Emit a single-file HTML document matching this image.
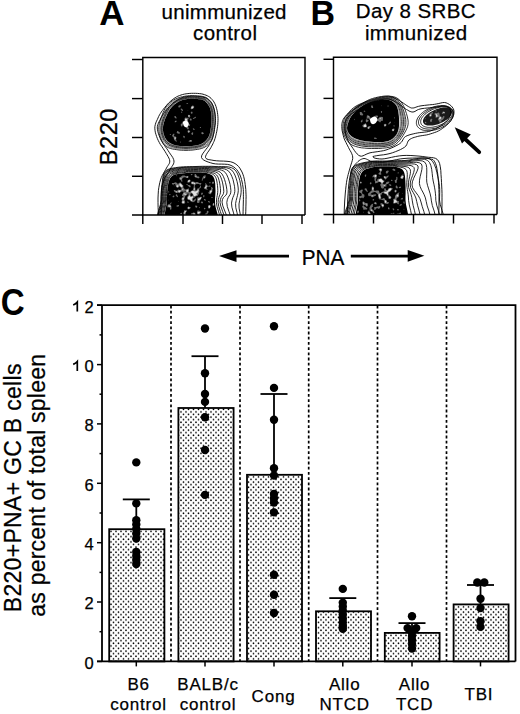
<!DOCTYPE html><html><head><meta charset="utf-8"><style>html,body{margin:0;padding:0;background:#fff;overflow:hidden;width:520px;height:714px;}svg{display:block;}text{font-family:"Liberation Sans",sans-serif;fill:#000;stroke:#000;stroke-width:0.25px;}text[font-weight=bold]{stroke:none;}</style></head><body>
<svg width="520" height="714" viewBox="0 0 520 714">
<rect width="520" height="714" fill="#fff"/>
<defs><pattern id="st" width="5" height="5.2" patternUnits="userSpaceOnUse" x="0" y="0"><circle cx="1" cy="1" r="0.85" fill="#000"/><circle cx="3.5" cy="3.6" r="0.85" fill="#000"/></pattern><clipPath id="cpA"><rect x="143" y="57.5" width="162" height="157.5"/></clipPath><clipPath id="cpB"><rect x="333.5" y="57.3" width="163.5" height="157.2"/></clipPath></defs><line x1="171" y1="305.59999999999997" x2="171" y2="661.4" stroke="#000" stroke-width="1.7" stroke-dasharray="2.8 2.4"/><line x1="240" y1="305.59999999999997" x2="240" y2="661.4" stroke="#000" stroke-width="1.7" stroke-dasharray="2.8 2.4"/><line x1="308.7" y1="305.59999999999997" x2="308.7" y2="661.4" stroke="#000" stroke-width="1.7" stroke-dasharray="2.8 2.4"/><line x1="377.5" y1="305.59999999999997" x2="377.5" y2="661.4" stroke="#000" stroke-width="1.7" stroke-dasharray="2.8 2.4"/><line x1="446.5" y1="305.59999999999997" x2="446.5" y2="661.4" stroke="#000" stroke-width="1.7" stroke-dasharray="2.8 2.4"/><rect x="109.2" y="529.2" width="55.2" height="132.19999999999993" fill="url(#st)" stroke="#000" stroke-width="1.8"/><rect x="178.4" y="408" width="55.19999999999999" height="253.39999999999998" fill="url(#st)" stroke="#000" stroke-width="1.8"/><rect x="247" y="474.8" width="55" height="186.59999999999997" fill="url(#st)" stroke="#000" stroke-width="1.8"/><rect x="316" y="611.3" width="55" height="50.10000000000002" fill="url(#st)" stroke="#000" stroke-width="1.8"/><rect x="384.8" y="632.9" width="54.80000000000001" height="28.5" fill="url(#st)" stroke="#000" stroke-width="1.8"/><rect x="453.6" y="604.4" width="55.0" height="57.0" fill="url(#st)" stroke="#000" stroke-width="1.8"/><line x1="136.3" y1="529.2" x2="136.3" y2="499.4" stroke="#000" stroke-width="1.8"/><line x1="122.80000000000001" y1="499.4" x2="149.8" y2="499.4" stroke="#000" stroke-width="1.8"/><line x1="205" y1="408" x2="205" y2="356.2" stroke="#000" stroke-width="1.8"/><line x1="191.5" y1="356.2" x2="218.5" y2="356.2" stroke="#000" stroke-width="1.8"/><line x1="274" y1="474.8" x2="274" y2="394" stroke="#000" stroke-width="1.8"/><line x1="260.5" y1="394" x2="287.5" y2="394" stroke="#000" stroke-width="1.8"/><line x1="342.8" y1="611.3" x2="342.8" y2="598.1" stroke="#000" stroke-width="1.8"/><line x1="329.3" y1="598.1" x2="356.3" y2="598.1" stroke="#000" stroke-width="1.8"/><line x1="412" y1="632.9" x2="412" y2="623.1" stroke="#000" stroke-width="1.8"/><line x1="398.5" y1="623.1" x2="425.5" y2="623.1" stroke="#000" stroke-width="1.8"/><line x1="480.5" y1="604.4" x2="480.5" y2="585" stroke="#000" stroke-width="1.8"/><line x1="467.0" y1="585" x2="494.0" y2="585" stroke="#000" stroke-width="1.8"/><circle cx="136.3" cy="462.4" r="4.2"/><circle cx="136.3" cy="503.4" r="4.2"/><circle cx="136.3" cy="520.2" r="4.2"/><circle cx="136.3" cy="524.5" r="4.2"/><circle cx="136.3" cy="529" r="4.2"/><circle cx="136.3" cy="533.5" r="4.2"/><circle cx="136.3" cy="538.5" r="4.2"/><circle cx="136.3" cy="552" r="4.2"/><circle cx="136.3" cy="556" r="4.2"/><circle cx="136.3" cy="560" r="4.2"/><circle cx="136.3" cy="564" r="4.2"/><circle cx="205" cy="328.5" r="4.2"/><circle cx="205" cy="373.3" r="4.2"/><circle cx="205" cy="394" r="4.2"/><circle cx="205" cy="401.9" r="4.2"/><circle cx="205" cy="417.3" r="4.2"/><circle cx="205" cy="450" r="4.2"/><circle cx="205" cy="494.9" r="4.2"/><circle cx="274" cy="326.2" r="4.2"/><circle cx="274" cy="387.9" r="4.2"/><circle cx="274" cy="419.8" r="4.2"/><circle cx="274" cy="468.2" r="4.2"/><circle cx="274" cy="475.5" r="4.2"/><circle cx="274" cy="494" r="4.2"/><circle cx="274" cy="498.2" r="4.2"/><circle cx="274" cy="502.6" r="4.2"/><circle cx="274" cy="512.4" r="4.2"/><circle cx="274" cy="574.7" r="4.2"/><circle cx="274" cy="594.7" r="4.2"/><circle cx="274" cy="613" r="4.2"/><circle cx="342.8" cy="588.9" r="4.2"/><circle cx="342.8" cy="602.6" r="4.2"/><circle cx="342.8" cy="606.5" r="4.2"/><circle cx="342.8" cy="610.5" r="4.2"/><circle cx="342.8" cy="614.5" r="4.2"/><circle cx="342.8" cy="618.5" r="4.2"/><circle cx="342.8" cy="622.5" r="4.2"/><circle cx="342.8" cy="626" r="4.2"/><circle cx="342.8" cy="628.8" r="4.2"/><circle cx="412" cy="616.3" r="4.2"/><circle cx="412" cy="632" r="4.2"/><circle cx="412" cy="636" r="4.2"/><circle cx="412" cy="640" r="4.2"/><circle cx="412" cy="644" r="4.2"/><circle cx="412" cy="648.5" r="4.2"/><circle cx="480.5" cy="598.75" r="4.2"/><circle cx="480.5" cy="608.1" r="4.2"/><circle cx="480.5" cy="621.25" r="4.2"/><circle cx="480.5" cy="626.9" r="4.2"/><circle cx="407.6" cy="628.1" r="4.2"/><circle cx="416.2" cy="628.1" r="4.2"/><circle cx="477.3" cy="582.5" r="4.2"/><circle cx="484.3" cy="582.5" r="4.2"/><path d="M102 305.2 V661.4 M97 305.2 H515.5 V661.4 M97 661.4 H515.5" fill="none" stroke="#000" stroke-width="1.8"/><line x1="97" y1="661.4" x2="102" y2="661.4" stroke="#000" stroke-width="1.5"/><text x="95" y="668.7" text-anchor="end" font-size="16.5" letter-spacing="1.2">0</text><line x1="99.5" y1="631.7" x2="102" y2="631.7" stroke="#000" stroke-width="1.5"/><line x1="97" y1="602.0" x2="102" y2="602.0" stroke="#000" stroke-width="1.5"/><text x="95" y="609.3" text-anchor="end" font-size="16.5" letter-spacing="1.2">2</text><line x1="99.5" y1="572.4" x2="102" y2="572.4" stroke="#000" stroke-width="1.5"/><line x1="97" y1="542.7" x2="102" y2="542.7" stroke="#000" stroke-width="1.5"/><text x="95" y="550.0" text-anchor="end" font-size="16.5" letter-spacing="1.2">4</text><line x1="99.5" y1="513.0" x2="102" y2="513.0" stroke="#000" stroke-width="1.5"/><line x1="97" y1="483.3" x2="102" y2="483.3" stroke="#000" stroke-width="1.5"/><text x="95" y="490.6" text-anchor="end" font-size="16.5" letter-spacing="1.2">6</text><line x1="99.5" y1="453.6" x2="102" y2="453.6" stroke="#000" stroke-width="1.5"/><line x1="97" y1="423.9" x2="102" y2="423.9" stroke="#000" stroke-width="1.5"/><text x="95" y="431.2" text-anchor="end" font-size="16.5" letter-spacing="1.2">8</text><line x1="99.5" y1="394.2" x2="102" y2="394.2" stroke="#000" stroke-width="1.5"/><line x1="97" y1="364.6" x2="102" y2="364.6" stroke="#000" stroke-width="1.5"/><text x="95" y="371.9" text-anchor="end" font-size="16.5" letter-spacing="1.2">0</text><path d="M73.2 364.4 Q75.8 363.3 77.3 361.5 V371.0" fill="none" stroke="#000" stroke-width="1.7"/><line x1="99.5" y1="334.9" x2="102" y2="334.9" stroke="#000" stroke-width="1.5"/><line x1="97" y1="305.2" x2="102" y2="305.2" stroke="#000" stroke-width="1.5"/><text x="95" y="312.5" text-anchor="end" font-size="16.5" letter-spacing="1.2">2</text><path d="M73.2 305.0 Q75.8 303.9 77.3 302.1 V311.6" fill="none" stroke="#000" stroke-width="1.7"/><line x1="136.3" y1="661.4" x2="136.3" y2="666.4" stroke="#000" stroke-width="1.5"/><line x1="205" y1="661.4" x2="205" y2="666.4" stroke="#000" stroke-width="1.5"/><line x1="274" y1="661.4" x2="274" y2="666.4" stroke="#000" stroke-width="1.5"/><line x1="342.8" y1="661.4" x2="342.8" y2="666.4" stroke="#000" stroke-width="1.5"/><line x1="412" y1="661.4" x2="412" y2="666.4" stroke="#000" stroke-width="1.5"/><line x1="480.5" y1="661.4" x2="480.5" y2="666.4" stroke="#000" stroke-width="1.5"/><text x="138.6" y="689.7" text-anchor="middle" font-size="17" letter-spacing="0.8">B6</text><text x="138.6" y="710.4" text-anchor="middle" font-size="17" letter-spacing="0.8">control</text><text x="208.0" y="689.7" text-anchor="middle" font-size="17" letter-spacing="0.8">BALB/c</text><text x="208.0" y="710.4" text-anchor="middle" font-size="17" letter-spacing="0.8">control</text><text x="273.5" y="701.8" text-anchor="middle" font-size="17" letter-spacing="0.8">Cong</text><text x="344.7" y="689.7" text-anchor="middle" font-size="17" letter-spacing="0.8">Allo</text><text x="344.7" y="710.4" text-anchor="middle" font-size="17" letter-spacing="0.8">NTCD</text><text x="414.59999999999997" y="689.7" text-anchor="middle" font-size="17" letter-spacing="0.8">Allo</text><text x="414.59999999999997" y="710.4" text-anchor="middle" font-size="17" letter-spacing="0.8">TCD</text><text x="478.9" y="700.3" text-anchor="middle" font-size="17" letter-spacing="0.8">TBI</text><text transform="translate(20.6,612.2) rotate(-90)" font-size="23" letter-spacing="0.3">B220+PNA+ GC B cells</text><text transform="translate(45.2,616.7) rotate(-90)" font-size="23" letter-spacing="0.23">as percent of total spleen</text><text x="0.8" y="315.3" font-size="36.8" font-weight="bold" transform="translate(0.8 0) scale(0.9 1) translate(-0.8 0)">C</text>
<g clip-path="url(#cpA)"><path d="M163.0 127.0 163.2 125.4 163.6 123.7 164.1 122.0 164.7 120.3 165.3 118.6 166.0 117.0 166.7 115.4 167.4 113.8 168.2 112.2 169.1 110.7 170.0 109.3 171.0 108.0 172.0 106.8 173.1 105.7 174.3 104.6 175.5 103.7 176.8 102.8 178.0 102.0 179.3 101.3 180.5 100.7 181.8 100.2 183.1 99.8 184.5 99.5 186.0 99.2 187.6 99.0 189.3 98.9 191.0 98.8 192.7 98.8 194.4 98.9 196.0 99.0 197.5 99.1 198.9 99.2 200.3 99.3 201.6 99.6 202.8 99.9 204.0 100.5 205.1 101.3 206.1 102.2 207.1 103.3 208.0 104.5 208.8 105.7 209.5 107.0 210.1 108.3 210.5 109.7 210.9 111.2 211.1 112.8 211.4 114.4 211.5 116.0 211.6 117.7 211.6 119.6 211.5 121.4 211.4 123.3 211.2 125.2 211.0 127.0 210.7 128.8 210.5 130.5 210.1 132.3 209.7 134.0 209.2 135.5 208.5 137.0 207.7 138.3 206.8 139.6 205.7 140.7 204.6 141.8 203.3 142.7 202.0 143.5 200.6 144.2 199.0 144.7 197.3 145.2 195.6 145.5 193.8 145.8 192.0 146.0 190.1 146.2 188.1 146.3 186.0 146.3 183.9 146.3 181.9 146.2 180.0 146.0 178.2 145.7 176.4 145.4 174.6 144.9 172.9 144.4 171.4 143.7 170.0 143.0 168.8 142.2 167.7 141.2 166.7 140.2 165.9 139.0 165.1 137.8 164.5 136.5 164.0 135.1 163.5 133.6 163.2 132.0 163.0 130.3 162.9 128.6Z" fill="#000" fill-opacity="1"/><path d="M168.0 230.0 165.1 226.6 164.1 221.7 164.4 215.9 165.4 210.0 166.5 204.5 167.0 200.0 167.0 196.6 167.1 193.7 167.2 191.2 167.4 189.0 167.6 187.0 168.0 185.0 168.4 183.1 168.9 181.3 169.4 179.7 170.1 178.3 171.0 177.1 172.0 176.0 173.3 175.2 174.7 174.6 176.4 174.2 178.1 174.0 180.0 173.8 182.0 173.5 184.1 173.2 186.4 173.0 188.9 172.8 191.3 172.6 193.7 172.5 196.0 172.5 198.2 172.5 200.4 172.6 202.5 172.7 204.5 172.8 206.4 173.1 208.0 173.5 209.4 174.0 210.6 174.5 211.7 175.1 212.6 175.8 213.3 176.8 214.0 178.0 214.5 179.6 214.9 181.4 215.2 183.5 215.3 185.6 215.4 187.9 215.5 190.0 215.5 191.9 215.4 193.7 215.3 195.6 215.1 197.6 215.0 200.0 215.0 203.0 215.6 207.0 217.0 212.0 218.5 217.3 219.2 222.5 218.7 226.9 216.0 230.0 210.3 231.9 201.9 233.1 192.1 233.6 182.3 233.2 173.8 232.0Z" fill="#000" fill-opacity="1"/><path d="M161.9 127.1 162.2 125.4 162.5 123.7 163.0 121.9 163.6 120.1 164.3 118.4 164.9 116.8 165.6 115.1 166.4 113.4 167.2 111.8 168.1 110.2 169.0 108.7 170.0 107.4 171.1 106.1 172.2 105.0 173.5 103.9 174.7 102.9 176.0 102.0 177.4 101.2 178.7 100.6 180.1 100.0 181.5 99.5 183.0 99.0 184.5 98.7 186.0 98.4 187.6 98.2 189.3 98.1 191.0 98.0 192.7 98.0 194.4 98.1 196.0 98.2 197.5 98.3 199.0 98.4 200.5 98.5 201.9 98.8 203.3 99.2 204.5 99.8 205.7 100.5 206.8 101.5 207.8 102.6 208.7 103.8 209.5 105.0 210.2 106.4 210.8 107.8 211.3 109.3 211.7 110.9 212.0 112.6 212.2 114.3 212.4 116.0 212.5 117.8 212.5 119.6 212.4 121.5 212.3 123.4 212.1 125.3 211.9 127.1 211.6 128.9 211.3 130.8 211.0 132.6 210.6 134.3 210.1 136.0 209.4 137.5 208.6 138.9 207.6 140.2 206.6 141.4 205.4 142.5 204.1 143.5 202.8 144.4 201.2 145.1 199.6 145.7 197.9 146.1 196.0 146.5 194.2 146.8 192.2 147.0 190.3 147.2 188.2 147.3 186.0 147.4 183.8 147.3 181.7 147.2 179.8 147.0 177.8 146.7 175.9 146.4 174.1 145.9 172.3 145.4 170.7 144.8 169.2 144.0 168.0 143.1 166.9 142.1 165.9 141.0 165.0 139.8 164.3 138.5 163.6 137.1 163.1 135.6 162.6 134.0 162.2 132.3 162.0 130.6 161.9 128.8Z M160.9 127.2 161.1 125.5 161.5 123.6 162.0 121.8 162.6 120.0 163.2 118.2 163.9 116.5 164.6 114.8 165.3 113.0 166.2 111.3 167.0 109.7 168.0 108.2 169.0 106.8 170.1 105.5 171.3 104.3 172.6 103.2 174.0 102.2 175.3 101.3 176.8 100.5 178.2 99.8 179.7 99.2 181.2 98.7 182.8 98.2 184.4 97.9 186.0 97.6 187.6 97.4 189.3 97.3 191.0 97.2 192.7 97.2 194.4 97.3 196.0 97.4 197.6 97.5 199.2 97.6 200.8 97.8 202.3 98.0 203.7 98.4 205.0 99.0 206.2 99.8 207.4 100.7 208.4 101.8 209.4 103.1 210.3 104.4 211.0 105.8 211.6 107.2 212.1 108.9 212.5 110.6 212.8 112.4 213.1 114.2 213.2 116.0 213.3 117.8 213.4 119.7 213.3 121.6 213.2 123.5 213.0 125.4 212.8 127.2 212.5 129.1 212.2 131.0 211.9 132.9 211.5 134.7 210.9 136.4 210.2 138.0 209.4 139.5 208.5 140.8 207.4 142.1 206.2 143.3 204.9 144.3 203.5 145.2 201.9 146.0 200.2 146.6 198.4 147.1 196.5 147.5 194.5 147.8 192.5 148.0 190.4 148.2 188.2 148.3 186.0 148.4 183.8 148.3 181.6 148.2 179.5 148.0 177.5 147.7 175.5 147.4 173.5 147.0 171.7 146.4 170.0 145.8 168.5 145.0 167.2 144.1 166.1 143.0 165.1 141.8 164.2 140.6 163.4 139.2 162.8 137.8 162.2 136.2 161.7 134.5 161.3 132.7 161.0 130.9 160.9 129.1Z M158.8 127.5 159.0 125.6 159.3 123.6 159.8 121.7 160.4 119.8 161.1 117.9 161.8 116.0 162.5 114.1 163.2 112.3 164.1 110.4 164.9 108.7 165.9 107.0 167.0 105.5 168.2 104.1 169.5 102.9 170.9 101.8 172.4 100.8 173.9 99.8 175.5 99.0 177.1 98.3 178.9 97.6 180.7 97.1 182.5 96.7 184.3 96.3 186.0 96.0 187.7 95.8 189.4 95.7 191.0 95.6 192.7 95.6 194.3 95.7 196.0 95.8 197.7 95.9 199.5 96.0 201.2 96.2 202.9 96.5 204.5 96.9 206.0 97.5 207.3 98.3 208.6 99.3 209.7 100.4 210.8 101.6 211.7 103.0 212.5 104.5 213.2 106.2 213.7 108.0 214.2 110.0 214.5 112.0 214.8 114.0 215.0 116.0 215.1 117.9 215.1 119.8 215.1 121.8 214.9 123.7 214.7 125.6 214.5 127.5 214.3 129.5 214.0 131.5 213.7 133.5 213.2 135.4 212.7 137.3 212.0 139.0 211.2 140.6 210.2 142.1 209.1 143.5 207.9 144.8 206.5 146.0 205.0 147.0 203.3 147.8 201.4 148.5 199.4 149.0 197.3 149.4 195.2 149.7 193.0 150.0 190.8 150.2 188.4 150.3 186.0 150.4 183.6 150.3 181.2 150.2 179.0 150.0 176.8 149.7 174.6 149.4 172.5 149.0 170.5 148.5 168.6 147.8 167.0 147.0 165.6 146.0 164.4 144.8 163.4 143.5 162.5 142.1 161.7 140.6 161.0 139.0 160.4 137.3 159.8 135.4 159.3 133.5 159.0 131.5 158.8 129.5Z" fill="none" stroke="#000" stroke-width="0.8" stroke-linejoin="round"/><path d="M162.5 127.1 162.7 125.4 163.1 123.7 163.6 121.9 164.2 120.2 164.8 118.5 165.5 116.9 166.2 115.3 166.9 113.6 167.7 112.0 168.6 110.5 169.5 109.0 170.5 107.7 171.6 106.5 172.7 105.3 173.9 104.3 175.1 103.3 176.4 102.4 177.7 101.6 179.0 101.0 180.3 100.4 181.7 99.9 183.1 99.4 184.5 99.1 186.0 98.8 187.6 98.6 189.3 98.5 191.0 98.4 192.7 98.5 194.4 98.5 196.0 98.6 197.5 98.7 199.0 98.8 200.4 99.0 201.8 99.2 203.0 99.6 204.2 100.1 205.4 100.9 206.4 101.9 207.4 102.9 208.3 104.1 209.2 105.4 209.9 106.7 210.4 108.1 210.9 109.5 211.3 111.1 211.6 112.7 211.8 114.3 211.9 116.0 212.0 117.8 212.0 119.6 212.0 121.5 211.8 123.4 211.6 125.2 211.4 127.1 211.2 128.8 210.9 130.6 210.5 132.4 210.1 134.1 209.6 135.8 208.9 137.2 208.1 138.6 207.2 139.9 206.1 141.1 205.0 142.1 203.7 143.1 202.4 143.9 200.9 144.6 199.3 145.2 197.6 145.6 195.8 146.0 194.0 146.2 192.1 146.5 190.2 146.7 188.1 146.8 186.0 146.8 183.9 146.8 181.8 146.7 179.9 146.5 178.0 146.2 176.1 145.8 174.3 145.4 172.6 144.9 171.1 144.2 169.6 143.5 168.4 142.6 167.3 141.6 166.3 140.6 165.5 139.4 164.7 138.1 164.1 136.8 163.5 135.4 163.1 133.8 162.8 132.1 162.5 130.5 162.4 128.7Z M161.4 127.2 161.6 125.4 162.0 123.7 162.5 121.9 163.1 120.1 163.7 118.3 164.4 116.6 165.1 114.9 165.8 113.2 166.7 111.6 167.5 110.0 168.5 108.4 169.5 107.0 170.6 105.8 171.8 104.6 173.0 103.5 174.3 102.6 175.7 101.7 177.1 100.9 178.4 100.2 179.9 99.6 181.4 99.0 182.9 98.6 184.4 98.3 186.0 98.0 187.6 97.8 189.3 97.7 191.0 97.6 192.7 97.6 194.4 97.7 196.0 97.8 197.6 97.9 199.1 98.0 200.6 98.1 202.1 98.4 203.5 98.8 204.8 99.4 205.9 100.1 207.1 101.1 208.1 102.2 209.1 103.4 209.9 104.7 210.6 106.0 211.2 107.5 211.7 109.1 212.1 110.7 212.4 112.5 212.7 114.2 212.8 116.0 212.9 117.8 212.9 119.7 212.9 121.6 212.7 123.5 212.6 125.3 212.3 127.2 212.1 129.0 211.8 130.9 211.5 132.7 211.0 134.5 210.5 136.2 209.8 137.8 209.0 139.2 208.1 140.5 207.0 141.8 205.8 142.9 204.5 143.9 203.1 144.8 201.6 145.6 199.9 146.2 198.1 146.6 196.3 147.0 194.3 147.3 192.4 147.5 190.3 147.7 188.2 147.8 186.0 147.9 183.8 147.8 181.7 147.7 179.6 147.5 177.7 147.2 175.7 146.9 173.8 146.5 172.0 145.9 170.3 145.3 168.9 144.5 167.6 143.6 166.4 142.6 165.5 141.4 164.6 140.2 163.8 138.9 163.2 137.4 162.6 135.9 162.1 134.3 161.7 132.5 161.5 130.8 161.4 129.0Z M159.9 127.4 160.0 125.5 160.4 123.6 160.9 121.8 161.5 119.9 162.2 118.0 162.9 116.2 163.5 114.5 164.3 112.7 165.1 110.9 166.0 109.2 166.9 107.6 168.0 106.1 169.2 104.8 170.4 103.6 171.8 102.5 173.2 101.5 174.6 100.6 176.1 99.8 177.7 99.0 179.3 98.4 180.9 97.9 182.6 97.5 184.3 97.1 186.0 96.8 187.7 96.6 189.3 96.5 191.0 96.4 192.7 96.4 194.4 96.5 196.0 96.6 197.6 96.7 199.3 96.8 201.0 97.0 202.6 97.2 204.1 97.7 205.5 98.2 206.8 99.0 208.0 100.0 209.1 101.1 210.1 102.3 211.0 103.7 211.8 105.1 212.4 106.7 212.9 108.4 213.4 110.3 213.7 112.2 213.9 114.1 214.1 116.0 214.2 117.9 214.2 119.8 214.2 121.7 214.0 123.6 213.9 125.5 213.6 127.4 213.4 129.3 213.1 131.2 212.8 133.2 212.4 135.1 211.8 136.9 211.1 138.5 210.3 140.0 209.3 141.5 208.2 142.8 207.0 144.1 205.7 145.2 204.2 146.1 202.6 146.9 200.8 147.5 198.9 148.0 196.9 148.4 194.8 148.7 192.8 149.0 190.6 149.2 188.3 149.3 186.0 149.4 183.7 149.3 181.4 149.2 179.2 149.0 177.2 148.7 175.1 148.4 173.0 148.0 171.1 147.5 169.3 146.8 167.8 146.0 166.4 145.0 165.2 143.9 164.2 142.7 163.3 141.3 162.6 139.9 161.9 138.4 161.3 136.7 160.7 135.0 160.3 133.1 160.0 131.2 159.9 129.3Z" fill="none" stroke="#333" stroke-width="0.6" stroke-linejoin="round"/><path d="M167.3 230.0 164.3 226.6 163.2 221.7 163.6 216.0 164.7 210.0 165.8 204.5 166.4 200.0 166.4 196.5 166.4 193.6 166.6 191.1 166.7 188.9 167.0 186.8 167.4 184.8 167.8 182.8 168.2 181.0 168.7 179.4 169.4 177.9 170.2 176.6 171.3 175.5 172.6 174.7 174.1 174.1 175.8 173.6 177.6 173.4 179.6 173.1 181.6 172.8 183.8 172.6 186.2 172.3 188.7 172.1 191.2 172.0 193.7 171.9 196.0 171.9 198.3 171.9 200.5 171.9 202.8 172.0 204.9 172.1 206.8 172.4 208.6 172.8 210.1 173.2 211.5 173.7 212.8 174.2 213.8 174.9 214.8 175.9 215.6 177.2 216.3 178.9 216.8 181.0 217.2 183.3 217.5 185.7 217.7 188.1 217.8 190.4 217.7 192.3 217.5 194.0 217.2 195.7 216.8 197.6 216.5 199.9 216.4 202.8 217.1 206.8 218.6 211.8 220.2 217.2 221.1 222.4 220.5 226.9 217.8 230.0 211.8 231.9 203.0 233.1 192.7 233.6 182.4 233.2 173.4 232.1Z M166.5 230.0 163.2 226.6 162.2 221.7 162.6 216.0 163.8 210.0 165.0 204.5 165.6 200.0 165.6 196.5 165.7 193.6 165.8 191.0 166.0 188.7 166.2 186.6 166.6 184.6 167.0 182.5 167.4 180.7 167.9 178.9 168.6 177.4 169.4 176.0 170.5 174.9 171.8 174.0 173.4 173.4 175.1 172.9 177.0 172.6 179.0 172.3 181.1 172.0 183.4 171.8 185.8 171.6 188.4 171.4 191.0 171.3 193.6 171.2 196.0 171.2 198.4 171.2 200.7 171.2 203.1 171.2 205.3 171.3 207.4 171.5 209.3 171.9 211.0 172.3 212.6 172.7 214.1 173.2 215.4 173.9 216.5 174.9 217.5 176.2 218.4 178.1 219.1 180.5 219.7 183.1 220.1 185.8 220.4 188.5 220.6 190.9 220.4 192.8 220.0 194.4 219.4 195.9 218.8 197.6 218.3 199.7 218.1 202.6 218.8 206.5 220.4 211.6 222.2 217.0 223.3 222.3 222.8 226.8 220.0 230.0 213.6 231.9 204.3 233.1 193.4 233.6 182.4 233.2 173.0 232.1Z M165.5 230.0 162.1 226.6 161.0 221.7 161.5 216.0 162.7 210.1 164.1 204.5 164.7 200.0 164.7 196.5 164.8 193.5 164.9 190.9 165.1 188.6 165.3 186.4 165.7 184.3 166.1 182.2 166.5 180.2 167.0 178.4 167.6 176.8 168.4 175.4 169.5 174.2 170.9 173.3 172.5 172.6 174.3 172.1 176.3 171.7 178.4 171.4 180.6 171.1 182.9 170.8 185.4 170.6 188.1 170.5 190.8 170.4 193.5 170.4 196.0 170.3 198.5 170.3 201.0 170.3 203.4 170.3 205.8 170.3 208.1 170.5 210.2 170.8 212.1 171.2 213.9 171.5 215.6 172.0 217.1 172.7 218.5 173.7 219.8 175.1 220.8 177.2 221.8 179.9 222.6 182.9 223.2 186.0 223.6 188.9 223.8 191.4 223.5 193.4 222.9 194.8 222.0 196.1 221.1 197.6 220.4 199.6 220.0 202.3 220.8 206.2 222.6 211.3 224.6 216.8 225.8 222.2 225.4 226.8 222.5 230.0 215.8 232.0 205.8 233.2 194.2 233.6 182.5 233.2 172.4 232.1Z M164.5 230.0 160.9 226.6 159.8 221.7 160.3 216.0 161.7 210.1 163.1 204.5 163.8 200.0 163.8 196.5 163.9 193.4 164.0 190.8 164.2 188.4 164.5 186.2 164.8 184.0 165.2 181.8 165.5 179.8 166.0 178.0 166.6 176.3 167.4 174.8 168.5 173.5 169.9 172.5 171.6 171.8 173.5 171.2 175.5 170.8 177.7 170.5 180.0 170.2 182.4 169.9 185.0 169.7 187.8 169.6 190.6 169.6 193.3 169.5 196.0 169.5 198.6 169.4 201.2 169.4 203.8 169.3 206.3 169.4 208.7 169.5 211.0 169.8 213.1 170.1 215.2 170.4 217.1 170.8 218.9 171.4 220.6 172.5 222.0 174.0 223.3 176.3 224.5 179.3 225.5 182.6 226.3 186.1 226.8 189.3 227.0 192.0 226.7 193.9 225.8 195.3 224.6 196.4 223.4 197.6 222.5 199.4 222.0 202.0 222.8 205.9 224.8 211.0 227.0 216.6 228.4 222.1 228.1 226.7 225.0 230.0 217.9 232.0 207.3 233.2 195.0 233.6 182.6 233.3 171.9 232.1Z M163.8 230.0 160.0 226.6 158.8 221.7 159.4 216.0 160.9 210.1 162.4 204.6 163.1 200.0 163.1 196.4 163.2 193.3 163.3 190.6 163.5 188.1 163.7 185.8 164.1 183.6 164.4 181.4 164.8 179.3 165.2 177.4 165.8 175.6 166.6 174.1 167.7 172.8 169.1 171.8 170.8 171.0 172.7 170.5 174.9 170.1 177.1 169.7 179.4 169.4 181.9 169.1 184.6 168.9 187.4 168.8 190.3 168.7 193.2 168.7 196.0 168.7 198.7 168.6 201.5 168.5 204.3 168.5 207.0 168.5 209.6 168.6 212.1 168.9 214.6 169.1 217.0 169.3 219.4 169.6 221.6 170.2 223.6 171.1 225.4 172.6 226.8 174.8 228.1 177.8 229.2 181.1 230.1 184.5 230.6 187.8 230.9 190.6 230.7 192.8 230.1 194.5 229.1 196.0 228.1 197.7 227.3 199.7 226.8 202.6 227.3 206.6 229.0 211.6 230.9 217.0 231.9 222.3 231.1 226.8 227.5 230.0 219.9 231.9 208.7 233.1 195.8 233.6 182.8 233.2 171.5 232.1Z M163.1 230.0 159.1 226.6 157.9 221.7 158.5 216.1 160.0 210.1 161.6 204.6 162.3 200.0 162.4 196.4 162.5 193.2 162.6 190.4 162.8 187.9 163.0 185.5 163.3 183.2 163.7 180.9 164.0 178.8 164.4 176.8 164.9 175.0 165.7 173.4 166.8 172.1 168.3 171.0 170.0 170.3 172.0 169.7 174.2 169.3 176.5 168.9 178.9 168.6 181.4 168.3 184.2 168.1 187.1 168.0 190.1 167.9 193.1 167.9 196.0 167.8 198.9 167.8 201.8 167.7 204.7 167.6 207.6 167.6 210.5 167.7 213.2 168.0 216.0 168.1 218.9 168.3 221.7 168.5 224.3 168.9 226.7 169.8 228.7 171.2 230.4 173.4 231.8 176.3 233.0 179.5 233.8 183.0 234.5 186.3 234.8 189.2 234.8 191.6 234.4 193.7 233.7 195.6 232.8 197.7 232.1 200.1 231.5 203.1 231.9 207.2 233.3 212.1 234.8 217.4 235.3 222.6 234.1 226.9 230.0 230.0 221.9 231.9 210.1 233.1 196.5 233.6 182.9 233.2 171.2 232.0Z M162.5 230.0 158.4 226.6 157.1 221.7 157.7 216.1 159.3 210.2 160.9 204.6 161.7 200.0 161.8 196.3 161.8 193.1 162.0 190.2 162.1 187.6 162.4 185.2 162.7 182.8 163.0 180.5 163.3 178.3 163.7 176.3 164.2 174.5 165.0 172.9 166.1 171.5 167.6 170.4 169.3 169.6 171.4 169.0 173.6 168.6 175.9 168.2 178.4 167.9 181.0 167.6 183.9 167.4 186.8 167.3 189.9 167.2 193.0 167.1 196.0 167.1 199.0 167.0 202.1 167.0 205.1 166.9 208.2 166.9 211.2 167.0 214.2 167.2 217.3 167.3 220.5 167.3 223.6 167.5 226.6 167.8 229.3 168.6 231.6 170.0 233.4 172.2 234.9 175.0 236.1 178.2 237.1 181.6 237.8 185.0 238.2 188.0 238.3 190.6 238.0 193.0 237.5 195.3 236.9 197.7 236.2 200.4 235.6 203.6 235.8 207.7 237.0 212.6 238.1 217.8 238.3 222.8 236.6 227.0 232.2 230.0 223.6 231.9 211.3 233.1 197.2 233.5 183.1 233.2 170.9 232.0Z M162.0 230.0 157.7 226.6 156.4 221.8 157.0 216.1 158.7 210.2 160.4 204.6 161.2 200.0 161.2 196.3 161.3 193.0 161.4 190.1 161.6 187.4 161.9 184.9 162.2 182.5 162.5 180.1 162.8 177.9 163.1 175.9 163.6 174.0 164.4 172.4 165.5 171.0 167.0 169.9 168.8 169.1 170.8 168.5 173.1 168.0 175.5 167.7 178.0 167.3 180.7 167.0 183.6 166.8 186.6 166.7 189.7 166.6 192.9 166.6 196.0 166.5 199.1 166.4 202.3 166.3 205.4 166.3 208.6 166.3 211.8 166.3 215.0 166.5 218.3 166.6 221.8 166.6 225.2 166.6 228.6 166.9 231.5 167.7 234.0 169.0 236.0 171.1 237.6 173.9 238.8 177.1 239.8 180.5 240.5 183.9 241.0 187.0 241.2 189.8 241.1 192.4 240.8 195.0 240.2 197.7 239.6 200.7 239.0 204.0 239.1 208.1 240.0 213.0 240.9 218.1 240.7 222.9 238.7 227.1 234.0 230.0 225.1 231.9 212.3 233.0 197.7 233.5 183.2 233.2 170.7 232.0Z" fill="none" stroke="#000" stroke-width="0.85" stroke-linejoin="round"/><path d="M159.2 230.0 159.0 224.5 158.7 218.8 158.4 213.1 158.1 207.6 158.0 202.5 158.0 198.0 158.2 194.1 158.4 190.7 158.8 187.8 159.3 185.0 159.8 182.5 160.5 180.0 161.3 177.6 162.3 175.4 163.5 173.3 164.6 171.4 165.6 169.6 166.5 168.0 167.3 166.6 168.1 165.4 168.8 164.3 169.4 163.3 169.7 162.2 169.8 161.0 169.5 159.6 168.9 158.1 168.1 156.6 167.2 155.0 166.2 153.4 165.2 151.7 164.1 150.0 162.9 148.2 161.7 146.3 160.4 144.5 159.3 142.5 158.3 140.6 157.4 138.6 156.6 136.5 155.9 134.3 155.3 132.2 155.0 130.2 154.8 128.2 154.9 126.4 155.3 124.6 155.8 122.9 156.5 121.2 157.3 119.6 158.0 118.0 158.7 116.4 159.5 114.9 160.4 113.4 161.3 112.0 162.4 110.5 163.5 109.0 164.8 107.4 166.2 105.8 167.6 104.1 169.2 102.5 170.7 101.1 172.2 99.8 173.6 98.7 175.1 97.8 176.5 96.9 177.9 96.2 179.4 95.6 181.0 95.0 182.7 94.5 184.4 94.1 186.1 93.8 187.9 93.6 189.8 93.4 191.6 93.3 193.5 93.3 195.5 93.3 197.5 93.4 199.4 93.6 201.3 93.8 203.0 94.2 204.6 94.7 206.0 95.2 207.4 95.8 208.7 96.5 209.9 97.3 211.0 98.3 212.0 99.4 213.0 100.6 213.9 101.9 214.7 103.3 215.4 104.9 216.0 106.5 216.5 108.3 217.0 110.2 217.4 112.3 217.7 114.4 217.9 116.5 218.0 118.5 218.0 120.5 217.9 122.4 217.8 124.4 217.6 126.3 217.3 128.2 217.0 130.0 216.7 131.8 216.3 133.5 215.9 135.2 215.5 136.9 215.0 138.5 214.5 140.0 214.0 141.4 213.4 142.6 212.9 143.8 212.3 145.0 211.6 146.2 210.9 147.6 209.9 149.2 208.7 151.0 207.4 152.8 206.3 154.6 205.6 156.2 205.5 157.5 206.0 158.4 206.9 159.0 208.2 159.5 209.9 159.8 211.8 160.1 214.0 160.5 216.7 160.8 219.9 161.0 223.5 161.1 227.0 161.3 230.3 161.7 233.0 162.5 235.1 163.6 236.9 164.9 238.5 166.4 239.8 168.1 240.9 170.0 242.0 172.0 242.9 174.2 243.7 176.6 244.3 179.1 244.8 181.7 245.2 184.4 245.5 187.0 245.8 189.5 245.9 191.9 246.0 194.2 246.1 196.8 246.0 199.7 246.0 203.0 245.9 206.9 245.8 211.2 245.6 215.8 245.4 220.6 245.2 225.4 245.0 230.0 M162.0 230.0 161.8 224.5 161.5 218.8 161.3 213.1 161.1 207.6 161.0 202.5 161.0 198.0 161.2 194.2 161.4 191.0 161.8 188.2 162.2 185.7 162.8 183.3 163.5 181.0 164.4 178.7 165.5 176.6 166.7 174.7 167.9 172.9 169.0 171.2 170.0 169.5 170.9 167.9 171.9 166.5 172.8 165.2 173.5 163.9 173.9 162.5 174.0 161.0 173.6 159.4 172.8 157.6 171.7 155.9 170.4 154.1 169.2 152.3 168.0 150.5 166.9 148.8 165.6 147.1 164.4 145.3 163.1 143.6 162.0 141.8 161.0 140.0 160.1 138.1 159.3 136.0 158.5 133.9 157.9 131.8 157.5 129.8 157.3 128.0 157.4 126.3 157.8 124.7 158.4 123.2 159.0 121.8 159.8 120.4 160.5 119.0 161.2 117.6 161.9 116.3 162.7 115.0 163.5 113.7 164.4 112.4 165.5 111.0 166.7 109.6 168.1 108.1 169.6 106.5 171.1 105.1 172.6 103.7 174.0 102.5 175.3 101.5 176.6 100.5 177.9 99.7 179.2 99.0 180.6 98.4 182.0 97.8 183.5 97.3 185.0 96.9 186.6 96.7 188.2 96.4 189.9 96.3 191.6 96.2 193.4 96.2 195.3 96.2 197.2 96.3 199.1 96.4 200.9 96.7 202.5 97.0 203.9 97.4 205.2 97.8 206.4 98.3 207.5 98.9 208.5 99.7 209.5 100.5 210.4 101.5 211.2 102.6 212.0 103.8 212.7 105.1 213.3 106.5 213.8 108.0 214.3 109.6 214.7 111.3 215.0 113.0 215.2 114.9 215.4 116.7 215.5 118.5 215.5 120.3 215.4 122.2 215.3 124.1 215.0 125.9 214.8 127.7 214.5 129.5 214.2 131.2 213.9 132.9 213.5 134.5 213.1 136.1 212.7 137.6 212.2 139.0 211.7 140.3 211.2 141.4 210.6 142.4 210.0 143.4 209.3 144.6 208.5 146.0 207.3 147.7 205.7 149.7 204.1 151.8 202.6 153.9 201.6 155.8 201.5 157.5 202.3 158.9 203.8 160.1 205.8 161.1 208.1 162.0 210.6 162.8 213.0 163.5 215.6 163.9 218.6 164.1 221.7 164.1 224.7 164.2 227.6 164.4 230.0 165.0 232.0 165.9 233.8 167.0 235.3 168.2 236.7 169.6 237.9 171.2 239.0 173.0 240.0 175.0 240.8 177.1 241.5 179.5 242.1 182.0 242.6 184.5 243.0 187.0 243.3 189.4 243.4 191.8 243.4 194.2 243.4 196.8 243.4 199.7 243.3 203.0 243.2 206.9 243.1 211.2 243.0 215.8 242.8 220.6 242.6 225.4 242.5 230.0" fill="none" stroke="#000" stroke-width="0.9" stroke-linejoin="round"/><path d="M187.9 104.0 187.4 103.8 186.5 103.5 186.1 103.0 186.9 102.9 187.5 103.0 188.2 103.5 187.9 104.0Z M179.4 107.6 178.8 107.5 178.3 107.0 178.4 106.0 178.9 105.5 179.4 105.4 179.9 104.9 180.4 105.0 180.7 106.0 180.4 106.9 179.9 107.3 179.4 107.6Z M192.4 109.1 191.4 109.3 190.8 109.0 190.7 108.0 190.9 107.5 191.3 106.5 191.8 106.0 192.4 105.6 193.4 105.8 193.9 106.1 194.3 107.0 193.9 107.8 193.4 108.4 192.9 108.8 192.4 109.1Z M182.9 111.0 182.4 110.9 181.7 110.5 181.0 110.0 180.7 109.5 180.9 108.5 180.9 108.5 181.9 108.8 182.4 109.3 182.9 110.0 183.0 110.5 182.9 111.0Z M187.9 110.5 187.7 110.0 188.3 110.0 187.9 110.5Z M181.9 112.7 181.0 112.5 181.4 111.6 182.4 112.0 181.9 112.7Z M192.4 113.5 191.4 113.7 190.9 113.2 190.7 112.5 191.1 112.0 191.9 111.5 192.5 112.0 192.5 113.0 192.4 113.5Z M189.4 117.5 188.9 117.4 188.1 117.0 187.9 116.1 187.9 115.7 188.2 115.0 188.9 114.7 189.6 115.0 190.0 115.5 190.3 116.5 189.9 117.5 189.4 117.5Z M204.9 115.1 204.9 114.8 204.9 115.1Z M176.4 118.5 175.9 118.5 175.1 118.0 174.6 117.5 174.4 117.0 174.4 116.2 174.9 115.9 175.4 116.0 175.9 116.6 176.4 117.4 176.7 118.0 176.4 118.5Z M194.4 118.6 193.4 118.9 192.8 118.5 193.2 118.0 193.9 117.8 194.4 117.4 194.9 116.9 195.9 116.8 195.9 117.5 195.5 118.0 194.9 118.3 194.4 118.6Z M187.9 129.5 187.4 129.1 187.0 128.5 186.5 128.0 185.9 127.5 185.5 127.0 185.2 126.5 184.9 125.9 184.9 125.4 185.4 124.8 186.4 124.5 186.9 124.1 186.9 123.7 186.6 123.0 186.1 123.0 185.4 123.2 184.8 123.5 183.9 123.8 183.4 124.1 182.9 124.5 182.5 125.5 182.4 126.0 181.9 126.7 181.4 126.2 180.9 125.5 180.7 125.0 180.9 124.2 181.4 123.7 181.9 123.2 182.3 122.5 182.6 122.0 182.9 121.2 183.9 121.1 184.4 120.7 184.5 120.0 184.5 119.0 184.8 118.0 185.4 117.5 186.4 117.8 187.4 117.7 188.4 117.9 188.7 118.5 188.4 119.1 188.0 120.0 188.0 121.0 188.2 122.0 188.5 122.5 188.7 123.5 188.7 124.5 187.9 124.7 187.7 125.5 187.9 126.0 188.3 127.0 188.4 127.5 188.8 128.5 188.4 129.3 187.9 129.5Z M190.9 120.7 190.4 120.4 189.9 119.8 189.6 119.0 190.4 118.5 191.4 118.8 191.7 119.5 191.4 120.4 190.9 120.7Z M175.9 122.0 174.9 122.4 174.7 121.5 175.3 121.0 175.9 120.6 176.8 121.0 176.4 121.8 175.9 122.0Z M189.4 126.1 188.7 126.0 188.7 125.0 189.0 124.5 189.9 124.3 190.2 125.0 189.9 125.6 189.4 126.1Z M176.4 125.1 176.4 124.9 176.4 125.1Z M200.4 128.1 199.8 128.0 199.9 127.4 200.4 126.9 201.0 127.0 200.9 128.0 200.4 128.1Z M206.9 128.0 206.9 127.8 206.9 128.0Z M194.4 130.0 193.9 129.9 193.2 129.5 192.9 129.0 192.9 128.2 193.8 128.5 194.4 129.0 194.7 129.5 194.4 130.0Z M189.4 132.6 188.4 133.0 187.9 132.5 187.5 131.5 187.8 130.5 188.4 130.1 189.3 130.5 189.9 130.7 190.2 131.5 189.9 132.1 189.4 132.6Z M179.9 133.6 178.9 133.8 177.9 133.6 177.4 133.3 176.8 133.0 176.8 132.0 177.1 131.5 177.4 130.9 177.9 131.0 178.4 131.6 179.0 132.0 179.8 132.5 180.0 133.0 179.9 133.6Z M192.4 135.1 191.9 134.7 191.4 134.1 191.3 133.5 191.6 133.0 192.2 132.5 192.9 132.2 193.3 133.0 192.9 134.0 192.9 134.7 192.4 135.1Z M203.4 134.0 202.4 134.3 201.6 134.0 201.4 133.5 201.4 132.8 201.9 132.0 202.9 132.3 203.4 132.8 203.9 133.4 203.9 133.5 203.4 134.0Z M170.4 135.0 169.6 135.0 169.9 134.5 170.4 133.9 170.9 134.0 170.9 134.7 170.4 135.0Z M176.9 141.5 175.9 141.5 175.5 141.0 175.0 140.5 174.4 140.2 174.0 139.5 173.9 139.0 173.8 138.0 173.4 137.1 172.9 136.7 172.4 136.4 172.1 135.5 172.5 135.0 172.9 134.2 173.4 133.7 174.4 133.7 174.4 134.5 174.1 135.0 174.0 136.0 174.7 136.5 175.4 136.6 176.2 137.0 176.4 137.5 176.3 138.0 176.1 139.0 176.1 140.0 176.4 140.5 176.9 141.0 176.9 141.5Z M168.4 135.5 168.4 135.0 168.4 135.0 168.4 135.5Z M184.4 138.3 183.8 138.0 183.4 137.1 183.1 136.5 183.4 135.8 184.4 135.9 184.9 136.4 184.9 136.5 184.6 137.5 184.4 138.3Z M172.4 140.0 172.4 139.8 172.4 140.0Z M191.4 141.7 190.4 141.8 189.4 141.7 188.5 141.5 188.9 140.7 189.4 140.4 190.4 140.1 191.4 140.1 192.0 140.5 191.9 141.4 191.4 141.7Z M180.9 142.5 180.4 142.5 179.7 142.0 180.4 141.5 180.9 142.1 180.9 142.5Z" fill="#707070" fill-rule="evenodd"/><path d="M178.9 106.5 178.9 106.4 178.9 106.5Z M192.4 108.6 191.4 108.6 191.3 108.0 191.4 107.4 191.9 106.6 192.4 106.4 192.9 106.5 193.5 107.0 193.4 107.6 192.9 108.2 192.4 108.6Z M189.4 116.6 188.7 116.5 188.3 116.0 188.4 115.4 189.4 115.3 189.7 116.0 189.4 116.6Z M185.9 121.0 185.4 120.7 185.0 120.0 185.1 119.0 185.9 118.5 186.8 119.0 187.0 119.5 187.0 120.5 186.4 120.9 185.9 121.0Z M184.4 123.0 183.4 123.3 182.9 123.0 183.1 122.5 183.8 122.0 184.4 121.8 185.4 121.7 185.4 122.3 184.9 122.7 184.4 123.0Z M186.4 127.0 185.9 126.7 185.5 126.0 185.9 125.3 186.5 125.5 186.9 126.1 186.9 126.7 186.4 127.0Z M188.9 132.2 188.3 132.0 188.4 131.1 189.4 131.4 189.4 131.7 188.9 132.2Z M177.9 132.7 177.9 132.3 177.9 132.7Z M202.4 133.5 202.1 133.0 202.5 133.0 202.4 133.5Z M174.9 139.0 174.6 138.5 174.5 137.5 175.4 137.2 175.8 138.0 175.4 138.9 174.9 139.0Z M190.9 141.2 190.0 141.0 190.9 140.6 190.9 141.2Z" fill="#e0e0e0" fill-rule="evenodd"/><path d="M183 122 q3 -3 5 0 q2 3 -1 5 q-4 1 -4 -5Z" fill="#fff"/><path d="M188.0 174.6 188.0 174.1 188.0 174.6Z M191.5 175.3 190.9 175.1 190.9 174.1 191.5 174.0 192.5 174.0 192.5 174.6 192.0 175.0 191.5 175.3Z M199.0 178.2 198.0 178.2 197.3 178.1 196.5 177.8 195.7 177.6 195.0 177.3 194.5 176.6 194.6 175.6 194.5 175.1 194.5 174.4 195.0 174.1 195.7 174.1 196.1 174.6 196.5 175.2 197.0 175.9 197.5 176.4 198.5 176.4 199.0 176.6 199.5 177.6 199.0 178.2Z M176.5 176.2 176.0 175.8 176.0 175.6 177.0 175.6 177.0 175.7 176.5 176.2Z M182.0 181.7 181.3 181.6 181.1 180.6 180.5 180.1 180.0 179.8 179.5 179.3 179.2 178.6 179.5 177.6 180.0 177.2 180.5 177.0 181.3 176.6 181.8 176.1 182.5 175.6 183.0 175.5 184.0 175.4 184.6 175.6 185.4 176.1 186.0 176.3 186.8 176.1 187.5 175.9 188.0 176.1 188.5 176.6 188.5 177.3 188.0 177.8 187.5 178.1 186.5 178.1 186.0 177.7 185.5 177.3 184.5 177.2 183.5 177.4 183.0 177.7 182.5 178.2 182.2 179.1 182.0 180.1 182.5 181.0 182.5 181.3 182.0 181.7Z M202.5 180.7 201.7 180.6 201.9 179.6 202.1 179.1 202.4 178.1 202.7 177.6 203.0 176.8 203.5 176.1 204.0 175.8 204.6 175.6 205.5 175.2 205.7 176.1 205.5 177.1 205.4 177.6 205.0 178.3 204.0 178.4 203.3 178.6 202.9 179.1 202.7 180.1 202.5 180.7Z M189.0 182.6 188.0 182.8 187.5 182.4 187.3 181.6 187.5 181.1 188.0 180.3 188.5 179.9 189.4 179.6 189.6 179.6 190.4 180.1 190.6 180.6 190.5 181.3 190.0 182.0 189.5 182.4 189.0 182.6Z M213.5 183.8 212.5 183.8 212.0 183.4 212.0 182.9 212.4 182.1 213.0 181.6 213.5 181.6 213.6 182.1 213.6 183.1 213.5 183.8Z M184.5 203.6 183.5 203.8 182.5 203.7 182.0 203.5 181.5 202.6 181.5 202.6 181.8 201.6 182.0 200.9 182.0 200.5 181.6 199.6 181.6 198.6 182.0 197.8 182.5 197.3 183.1 197.1 183.7 196.6 183.0 196.3 182.3 196.1 181.9 195.6 182.0 195.0 182.5 194.3 182.9 193.6 183.1 193.1 183.5 192.5 183.6 191.6 183.0 191.6 182.0 191.5 181.4 191.6 180.6 192.1 180.2 192.6 179.7 193.1 179.1 193.1 178.5 192.8 177.5 192.8 176.5 193.1 175.5 192.6 175.0 192.2 174.5 191.8 174.0 191.3 173.8 190.6 174.0 190.1 175.0 190.0 175.5 190.4 176.0 190.7 177.0 190.8 177.5 190.6 178.0 189.6 179.0 189.7 180.0 189.9 181.0 189.8 181.5 189.1 181.2 188.1 180.8 187.6 180.3 187.1 179.9 186.6 179.1 186.6 178.7 187.1 178.4 187.6 177.5 188.0 176.8 187.6 176.3 187.1 175.9 186.6 175.7 185.6 175.5 184.7 175.0 184.1 174.5 183.9 174.0 184.2 173.5 184.8 172.7 184.6 172.0 184.2 171.9 183.6 172.3 183.1 173.0 182.9 174.0 182.9 174.7 182.6 175.5 182.2 176.3 182.6 176.9 183.1 177.5 183.6 177.8 184.1 178.1 184.1 178.5 183.5 179.0 183.0 180.0 182.6 180.5 182.5 181.0 183.0 181.4 183.6 181.8 184.1 182.2 184.6 182.9 185.1 183.4 185.6 183.3 186.6 183.3 187.6 183.8 188.1 184.2 188.6 184.6 189.1 185.2 189.6 185.6 189.6 186.5 189.3 187.2 189.1 188.0 188.8 188.7 188.6 189.1 188.6 189.0 189.6 189.0 190.6 189.0 191.1 188.9 192.1 189.5 192.3 190.0 192.1 190.6 191.6 191.1 191.1 191.9 190.6 192.5 190.3 193.0 189.8 193.2 189.1 193.5 188.1 193.6 187.6 193.7 186.6 193.9 185.6 193.7 184.6 193.0 184.2 192.0 184.3 191.4 184.1 191.0 183.1 191.1 182.1 192.0 181.6 193.0 181.6 194.0 181.8 194.7 182.1 195.5 182.5 196.3 182.1 197.0 181.9 197.6 182.1 198.5 182.6 199.0 182.9 200.0 183.1 201.0 183.1 201.5 183.6 201.0 184.1 200.5 184.9 199.6 184.6 199.0 184.1 198.5 184.0 197.5 184.0 196.5 184.0 196.0 184.2 195.5 184.6 195.0 185.3 194.7 186.1 195.0 187.1 195.2 187.6 195.4 188.6 195.4 189.6 195.5 190.4 196.5 190.2 196.9 189.6 197.1 189.1 197.5 188.5 198.5 188.2 199.0 188.0 199.5 187.4 200.0 186.7 200.3 186.1 200.5 185.2 201.0 185.9 201.0 186.6 201.0 187.1 200.6 188.1 200.0 188.3 199.5 188.6 199.2 189.6 199.4 190.6 199.5 191.1 199.4 191.6 199.0 192.4 198.9 193.1 198.8 194.1 198.4 194.6 198.0 195.1 197.5 196.0 196.8 196.1 196.0 196.3 195.5 196.6 195.0 197.2 194.5 197.6 193.5 198.0 193.1 198.6 192.8 199.1 192.9 200.1 193.3 200.6 193.6 200.6 194.0 200.1 194.5 199.5 195.0 198.8 195.5 198.5 195.9 199.1 195.7 200.1 195.5 200.6 195.0 201.3 194.5 201.6 193.5 201.9 193.0 202.2 192.3 202.1 191.5 201.7 191.0 201.5 190.4 201.1 190.0 200.5 189.5 200.0 188.5 199.9 187.6 199.6 187.4 199.1 187.3 198.1 187.2 197.1 187.5 196.6 188.0 196.1 188.5 195.1 188.5 194.6 188.6 193.6 188.0 193.2 187.5 193.6 187.4 194.6 186.9 195.1 186.0 195.6 185.5 195.9 185.1 196.6 185.0 197.3 184.7 198.1 184.5 198.8 184.2 199.6 184.4 200.6 185.0 201.1 185.0 201.8 185.2 202.6 185.0 203.4 184.5 203.6Z M210.0 183.4 209.3 183.1 209.5 182.1 210.0 181.9 210.5 182.3 210.5 183.0 210.0 183.4Z M207.5 190.0 206.5 189.6 206.0 189.4 205.0 189.1 204.5 188.9 204.0 188.6 203.8 187.6 204.4 187.1 205.0 186.6 205.1 186.1 205.3 185.1 205.5 184.1 205.5 184.0 205.2 183.1 205.7 183.1 206.1 183.6 206.5 184.3 207.0 185.0 207.5 185.6 208.0 186.1 208.0 186.1 209.0 185.8 209.5 185.6 210.1 185.6 210.5 186.1 210.5 186.6 209.5 186.7 208.5 186.6 207.5 186.8 207.0 187.5 206.9 188.1 207.0 188.7 207.5 189.3 207.5 190.0Z M190.0 187.4 189.2 187.1 188.7 186.6 188.3 186.1 187.9 185.6 187.0 185.1 186.5 184.8 186.4 184.1 187.0 184.0 187.5 184.3 188.0 184.9 189.0 184.9 189.5 185.1 190.2 185.6 190.7 186.1 190.5 186.9 190.0 187.4Z M174.5 186.2 173.6 186.1 174.0 185.5 174.5 185.9 174.5 186.2Z M210.5 194.2 209.5 194.1 209.0 193.7 208.5 193.3 208.3 192.6 208.9 192.1 209.2 191.6 209.5 190.6 210.0 190.3 210.6 190.1 211.0 189.6 211.2 188.6 211.0 187.6 210.9 187.1 211.5 187.0 212.0 187.3 212.5 187.7 213.0 188.2 213.0 188.6 212.5 189.4 212.3 190.1 212.5 191.1 212.0 192.1 211.6 192.6 211.4 193.1 211.0 193.9 210.5 194.2Z M169.0 192.7 168.5 192.6 168.4 191.6 168.5 190.8 169.0 191.4 169.3 192.1 169.0 192.7Z M185.6 192.1 185.5 191.2 185.0 190.6 184.5 191.3 184.5 191.7 185.0 192.1 185.6 192.1Z M202.5 194.6 201.5 194.8 201.0 194.6 201.0 194.0 201.4 193.1 202.0 192.6 202.9 193.1 202.8 194.1 202.5 194.6Z M191.7 196.1 192.5 195.8 192.9 195.1 192.5 194.1 192.1 193.6 191.5 193.3 190.7 193.6 190.5 194.1 190.4 195.1 190.5 195.6 191.0 196.2 191.7 196.1Z M170.0 195.3 169.1 195.1 169.5 194.1 170.0 193.9 170.5 194.2 170.5 194.7 170.0 195.3Z M178.0 197.3 177.2 197.1 176.6 196.6 176.1 196.1 175.7 195.6 175.9 194.6 176.5 194.3 177.0 194.6 177.4 195.6 177.7 196.1 178.1 196.6 178.0 197.3Z M174.0 197.3 173.0 197.3 172.5 197.0 172.5 196.5 173.0 195.9 173.5 195.5 174.1 195.6 174.4 196.6 174.0 197.3Z M204.0 197.4 203.2 197.1 203.1 196.1 203.5 195.1 204.5 195.5 204.5 196.1 204.3 196.6 204.0 197.4Z M198.0 203.1 197.5 203.0 197.0 202.2 197.0 201.6 197.1 201.1 197.2 200.1 197.1 199.1 197.4 198.1 197.6 197.6 198.0 196.7 198.5 197.4 199.5 197.3 200.0 197.0 201.0 196.7 202.0 196.9 202.1 197.6 201.7 198.1 201.3 198.6 201.0 199.2 200.5 200.0 200.0 200.5 199.5 201.0 199.5 201.6 199.7 202.1 199.4 202.6 198.5 203.0 198.0 203.1Z M212.5 198.1 211.6 198.1 211.3 197.6 211.5 197.0 212.5 197.1 212.7 197.6 212.5 198.1Z M205.5 200.7 204.8 200.6 204.0 200.1 203.9 199.6 204.2 199.1 204.9 199.1 205.5 199.6 205.9 200.1 205.5 200.7Z M168.5 201.0 168.5 200.1 168.5 199.6 168.8 200.1 168.5 201.0Z M179.0 201.6 178.4 201.6 178.5 201.0 179.1 201.1 179.0 201.6Z M210.0 202.4 209.0 202.5 208.3 202.1 207.9 201.6 208.0 201.1 208.5 201.1 209.5 201.4 210.1 201.6 210.0 202.4Z M188.5 202.9 187.5 202.6 187.0 202.1 187.0 201.9 187.5 201.4 188.1 201.6 188.6 202.1 188.5 202.9Z M203.0 203.1 202.0 203.4 201.4 203.1 200.8 202.6 201.0 202.0 201.5 201.6 202.2 201.6 202.8 202.1 203.0 202.6 203.0 203.1Z M171.0 209.7 170.2 209.6 169.9 209.1 170.0 208.1 169.5 207.4 168.5 207.2 168.0 207.6 167.5 207.6 167.4 206.6 167.4 205.6 167.9 205.1 168.0 204.3 169.0 204.5 169.8 204.1 170.0 203.5 170.5 202.9 171.0 202.5 171.7 202.6 171.5 203.3 171.0 203.7 170.4 204.1 170.5 205.0 170.9 205.6 171.3 206.1 171.4 207.1 171.4 208.1 171.4 209.1 171.0 209.7Z M214.0 205.9 213.0 205.7 212.5 205.1 212.8 204.1 213.0 203.5 213.5 202.7 214.0 203.4 214.2 204.1 214.1 205.1 214.0 205.9Z M174.5 204.3 174.4 203.6 174.5 203.6 174.5 204.3Z M178.5 206.6 177.5 206.8 176.7 206.6 176.3 206.1 176.7 205.6 177.5 205.3 178.2 205.1 178.7 205.1 179.0 205.6 179.0 206.1 178.5 206.6Z M209.0 208.7 208.5 208.5 208.2 207.6 208.1 206.6 208.3 205.6 208.8 205.1 209.5 205.0 210.0 205.2 210.6 205.6 210.7 206.6 210.5 207.1 210.0 208.0 209.5 208.6 209.0 208.7Z M196.5 207.8 195.8 207.6 195.3 207.1 195.2 206.1 195.5 205.4 196.3 205.6 196.9 206.1 197.4 206.6 197.0 207.5 196.5 207.8Z M189.5 209.1 188.5 209.3 187.7 209.1 187.4 208.6 187.5 207.6 187.7 207.1 188.5 206.6 189.5 206.9 190.5 207.0 190.7 207.6 190.5 208.1 190.0 208.8 189.5 209.1Z M199.5 208.2 199.0 208.0 199.0 207.1 199.1 207.1 199.8 207.6 199.5 208.2Z M205.0 209.2 204.0 209.2 203.9 208.6 204.2 208.1 205.0 207.8 205.5 208.6 205.0 209.2Z M186.0 218.6 185.6 218.1 185.3 217.6 184.7 217.1 184.0 216.7 183.7 216.1 183.6 215.1 183.5 214.1 183.4 213.6 183.4 212.6 183.8 212.1 184.0 211.6 184.2 210.6 184.5 210.0 185.0 210.2 186.0 210.2 187.0 210.4 187.1 211.1 186.7 211.6 186.2 212.1 185.9 212.6 185.6 213.6 185.9 214.6 186.2 215.1 186.6 215.6 187.0 216.3 187.4 217.1 187.6 217.6 187.4 218.1 186.5 218.4 186.0 218.6Z M199.0 215.1 198.5 215.0 197.7 214.6 197.2 214.1 197.0 213.2 197.0 212.7 197.1 212.1 197.3 211.1 197.7 210.6 198.5 210.5 199.0 210.8 200.0 211.0 200.5 211.2 201.1 211.6 201.2 212.6 200.7 213.1 200.3 213.6 200.0 214.1 199.5 214.8 199.0 215.1Z M206.5 215.4 205.5 215.5 204.7 215.1 204.9 214.1 205.5 213.6 206.0 213.5 206.7 213.1 206.7 212.1 207.0 211.1 207.5 210.7 208.3 211.1 208.5 211.6 208.5 212.2 208.1 213.1 207.6 213.6 207.3 214.1 207.0 214.9 206.5 215.4Z M189.5 211.7 189.5 211.5 189.5 211.7Z M195.0 215.8 194.0 215.9 193.3 215.6 192.5 215.2 191.5 215.1 191.0 214.6 190.9 214.1 191.0 213.6 192.0 213.2 192.5 213.0 193.5 212.6 194.0 212.6 194.5 212.7 195.0 213.1 195.5 213.8 195.8 214.6 195.5 215.4 195.0 215.8Z M181.5 214.2 180.5 214.3 180.2 213.6 180.8 213.1 181.5 212.8 182.1 213.1 182.0 213.6 181.5 214.2Z M174.0 217.1 173.3 217.1 172.9 216.6 173.5 216.1 174.0 216.0 175.0 215.9 175.5 215.3 176.0 214.7 177.0 215.1 177.0 215.1 176.5 215.8 175.7 216.1 175.0 216.6 174.5 217.0 174.0 217.1Z M217.0 217.9 216.4 217.6 216.5 216.8 217.0 216.4 217.1 217.1 217.0 217.9Z M209.0 219.2 208.3 219.1 207.5 218.8 207.0 218.3 206.8 217.6 207.0 216.9 207.7 217.1 208.5 217.4 209.2 217.6 209.7 218.1 209.5 218.9 209.0 219.2Z M178.0 220.9 177.1 220.6 176.7 220.1 176.5 219.6 176.0 218.6 176.0 218.4 177.0 218.3 177.5 218.6 178.0 219.1 178.4 220.1 178.0 220.9Z M213.0 219.5 212.0 219.4 211.3 219.1 211.0 218.6 211.5 218.4 212.5 218.6 213.0 218.9 213.0 219.5Z M205.0 219.6 204.1 219.6 204.0 219.1 204.5 218.8 205.0 219.1 205.0 219.6Z M193.5 223.2 192.8 223.1 192.0 222.9 191.0 222.8 190.0 222.8 190.0 222.3 190.2 221.6 190.3 220.6 190.7 220.1 191.5 219.9 192.1 220.1 192.6 220.6 193.2 221.1 194.0 221.6 194.0 222.1 193.9 222.6 193.5 223.2Z M195.0 221.1 194.5 221.1 194.5 220.3 195.0 220.0 195.5 220.1 196.0 220.6 195.5 220.9 195.0 221.1Z M198.5 221.9 197.7 221.6 197.2 221.1 196.8 220.6 197.1 220.1 198.0 219.6 198.7 220.1 198.8 221.1 198.5 221.9Z M182.5 223.2 181.5 223.3 180.5 223.1 180.0 222.9 179.2 222.6 179.5 221.8 180.0 221.5 181.0 221.4 181.6 221.6 182.2 222.1 182.6 222.6 182.5 223.2Z M176.0 224.7 175.0 224.8 174.4 224.6 174.5 223.9 175.0 223.2 176.0 223.3 176.5 224.0 176.5 224.2 176.0 224.7Z M201.0 225.8 200.0 225.7 199.7 225.1 199.6 224.1 200.0 223.4 201.0 223.1 201.2 224.1 201.0 225.1 201.0 225.8Z M173.0 226.4 172.0 226.3 171.5 226.1 170.5 225.9 169.6 225.6 169.1 225.1 169.4 224.1 170.0 223.7 171.0 223.9 171.5 224.2 172.1 224.6 173.0 225.1 173.5 225.6 173.0 226.4Z M216.5 226.1 216.2 225.6 216.1 224.6 216.5 223.9 217.0 224.1 217.1 225.1 217.0 225.7 216.5 226.1Z M188.0 227.2 187.0 227.3 186.5 226.6 186.5 226.5 186.8 225.6 187.2 225.1 188.0 224.8 189.0 225.0 189.5 225.1 190.1 225.6 190.2 226.6 189.5 226.9 188.5 227.0 188.0 227.2Z M210.0 225.5 209.5 225.1 210.0 224.9 210.0 225.5Z M169.5 228.1 169.0 227.6 168.5 227.1 168.0 226.7 167.5 226.2 167.0 225.6 167.0 225.4 168.0 225.4 168.6 225.6 168.9 226.6 169.1 227.1 169.6 227.6 169.5 228.1Z M195.0 226.6 194.4 226.6 194.5 225.8 195.2 226.1 195.0 226.6Z M204.5 230.6 203.5 230.6 203.0 230.1 202.6 229.6 202.0 229.1 201.6 228.6 201.0 228.1 200.3 228.6 199.6 229.1 199.0 229.2 198.7 228.6 199.0 227.9 199.8 227.6 200.1 227.6 201.0 228.0 201.5 227.3 201.6 226.6 202.5 226.1 203.5 226.3 204.0 226.6 204.6 227.1 204.5 227.9 204.2 228.6 204.0 229.1 204.0 229.6 204.5 230.2 204.5 230.6Z M208.5 228.4 207.6 228.1 207.3 227.6 207.5 226.8 208.5 227.0 208.9 227.6 208.5 228.4Z M196.0 231.1 195.0 231.1 194.4 231.1 194.0 230.6 193.8 229.6 194.0 228.9 194.5 228.4 195.5 228.3 196.1 228.6 196.4 229.6 196.1 230.6 196.0 231.1Z" fill="#707070" fill-rule="evenodd"/><path d="M196.5 176.6 195.5 176.8 195.3 176.1 196.0 175.7 196.5 176.5 196.5 176.6Z M183.0 176.6 183.0 176.5 183.0 176.6Z M187.5 177.6 186.9 177.6 187.0 176.7 187.5 176.6 188.0 177.1 188.0 177.1 187.5 177.6Z M204.5 177.7 203.9 177.6 204.0 177.0 204.8 177.1 204.5 177.7Z M181.0 179.2 180.5 178.9 180.5 178.2 181.0 178.0 181.5 178.5 181.5 178.6 181.0 179.2Z M188.5 182.1 188.0 181.6 188.4 180.6 189.0 180.1 189.5 180.1 189.9 180.6 189.5 181.6 189.0 182.0 188.5 182.1Z M195.0 184.3 194.2 184.1 193.6 183.6 193.2 183.6 192.5 183.7 191.8 183.6 191.7 182.6 192.5 182.1 193.5 182.4 194.0 182.7 194.6 183.1 195.3 183.6 195.0 184.3Z M213.5 183.3 212.7 183.1 213.0 182.3 213.5 182.6 213.5 183.3Z M182.0 187.3 181.1 187.1 180.6 186.6 180.2 186.1 179.7 185.6 179.4 185.1 179.5 184.1 179.8 183.6 180.4 183.6 181.0 184.1 181.5 184.6 182.0 185.1 182.5 185.5 182.7 186.1 182.5 186.6 182.0 187.3Z M178.0 187.1 177.0 187.1 176.6 186.6 176.5 186.1 176.5 185.6 177.5 185.2 178.5 185.6 178.5 186.1 178.3 186.6 178.0 187.1Z M206.0 188.2 205.0 188.2 205.0 187.6 205.5 187.1 205.6 186.6 205.8 185.6 206.5 185.4 206.9 186.1 206.5 187.0 206.1 187.6 206.0 188.2Z M194.0 190.4 193.8 189.6 193.9 188.6 194.4 188.1 194.5 188.1 194.8 189.1 194.5 190.0 194.0 190.4Z M183.0 190.1 182.5 190.0 182.4 189.1 182.5 188.4 183.0 188.6 183.3 189.6 183.0 190.1Z M194.5 196.1 194.0 195.9 193.6 195.1 193.3 194.6 193.0 194.1 192.5 193.3 192.0 193.0 191.3 192.6 191.3 191.6 191.8 191.1 192.5 190.9 193.5 190.9 194.0 191.2 195.0 191.5 196.0 191.2 196.5 191.0 197.5 190.6 197.7 190.1 198.0 189.3 198.5 189.6 198.7 190.6 198.5 191.3 198.0 191.9 197.6 192.6 197.2 193.1 196.5 193.4 195.8 193.6 196.5 194.0 197.0 194.6 196.5 195.2 196.0 195.6 195.0 196.0 194.5 196.1Z M187.5 192.0 186.5 191.7 186.3 191.1 186.5 190.1 187.0 189.8 188.0 189.7 188.4 190.6 188.0 191.5 187.5 192.0Z M179.5 192.3 178.6 192.1 178.2 191.6 178.5 190.8 179.0 190.3 180.0 190.4 180.7 190.6 180.5 191.3 180.0 192.0 179.5 192.3Z M210.5 192.9 209.9 192.6 210.0 191.6 210.3 191.1 211.0 190.6 211.5 190.3 211.9 191.1 211.5 191.9 211.0 192.5 210.5 192.9Z M177.0 192.2 176.0 192.2 175.5 191.8 175.5 191.4 176.5 191.5 177.0 191.6 177.0 192.2Z M186.0 194.8 185.0 194.7 184.5 194.5 183.5 194.4 183.5 193.7 184.0 193.2 185.0 193.5 185.5 193.7 186.4 194.1 186.0 194.8Z M192.0 201.1 191.4 201.1 190.8 200.6 190.5 200.0 190.0 199.4 189.0 199.3 188.0 199.1 187.8 198.6 187.8 197.6 188.0 197.0 188.5 196.5 189.0 196.0 189.4 195.1 189.5 194.4 189.6 195.1 189.8 196.1 190.2 196.6 190.5 197.1 191.5 197.1 192.0 196.6 192.5 196.5 193.0 196.6 193.0 197.5 192.6 198.1 192.0 198.5 191.7 199.1 192.0 199.9 192.2 200.6 192.0 201.1Z M199.0 200.1 198.0 200.4 197.9 199.6 198.0 199.0 198.7 198.6 199.5 198.2 200.0 197.8 200.5 197.5 201.0 197.6 201.0 198.2 200.5 199.1 200.0 199.6 199.5 199.8 199.0 200.1Z M183.0 199.8 182.4 199.6 182.3 198.6 182.6 198.1 183.5 197.8 183.9 198.6 183.5 199.4 183.0 199.8Z M183.5 203.2 182.5 203.1 182.1 202.6 182.4 201.6 182.9 201.1 183.1 201.1 184.0 201.5 184.3 202.1 184.0 203.1 183.5 203.2Z M214.0 205.1 213.5 205.0 213.3 204.1 213.5 203.5 214.1 203.6 214.1 204.6 214.0 205.1Z M170.5 206.9 169.5 206.7 169.0 206.5 168.0 206.2 168.0 205.9 168.5 205.6 169.5 205.4 170.2 205.6 170.7 206.1 170.5 206.9Z M209.0 208.1 208.6 207.6 208.5 207.1 208.5 206.4 209.0 205.6 209.5 205.6 210.0 205.9 210.2 206.6 210.0 207.2 209.5 208.0 209.0 208.1Z M196.5 206.8 195.8 206.6 196.5 206.5 196.5 206.8Z M188.5 208.6 188.0 208.5 187.9 207.6 188.5 207.2 189.5 207.5 189.6 208.1 189.0 208.5 188.5 208.6Z M186.0 216.7 185.4 216.6 184.8 216.1 184.5 215.3 184.4 214.6 184.4 213.6 184.4 212.6 184.5 211.8 184.9 211.1 185.5 210.9 186.1 211.1 185.9 211.6 185.5 212.1 185.0 212.9 184.7 213.6 185.0 214.1 185.2 215.1 185.6 215.6 186.1 216.1 186.0 216.7Z M207.5 211.9 207.5 211.6 207.5 211.9Z M198.5 213.8 197.8 213.6 197.6 212.6 198.0 211.9 198.9 212.1 199.2 212.1 200.0 211.9 200.1 212.6 199.5 212.8 199.0 213.4 198.5 213.8Z M195.0 215.1 194.0 215.3 193.5 214.9 193.0 214.3 193.0 213.9 193.5 213.4 194.5 213.5 195.0 214.0 195.2 214.6 195.0 215.1Z M192.5 222.1 191.8 222.1 191.2 221.6 191.5 220.9 192.2 221.1 192.6 221.6 192.5 222.1Z M171.5 225.2 170.5 225.2 170.5 224.7 171.5 225.0 171.5 225.2Z M217.0 225.6 216.7 225.1 217.0 225.1 217.0 225.6Z M188.0 226.3 187.5 226.1 187.7 225.6 188.5 225.6 188.5 225.8 188.0 226.3Z M167.5 226.1 167.5 226.1 167.5 226.1Z M168.0 226.6 168.0 226.5 168.0 226.6Z M203.0 227.6 203.0 227.6 203.0 227.6Z M195.0 230.6 194.5 230.3 194.4 229.6 194.8 229.1 195.5 229.0 195.9 229.6 195.5 230.4 195.0 230.6Z" fill="#e0e0e0" fill-rule="evenodd"/></g><g clip-path="url(#cpB)"><path d="M347.5 125.0 348.0 123.4 348.6 121.6 349.3 119.7 350.3 117.8 351.5 115.8 353.0 114.0 354.8 112.1 356.8 110.2 359.1 108.3 361.6 106.4 364.1 104.8 366.8 103.4 369.7 102.3 372.9 101.3 376.2 100.4 379.5 99.9 382.5 99.5 385.2 99.5 387.5 99.8 389.7 100.3 391.6 101.1 393.3 102.2 394.7 103.5 396.0 105.0 397.0 106.8 397.7 109.0 398.3 111.4 398.6 113.9 398.9 116.4 399.0 118.8 399.1 121.2 399.1 123.6 399.0 126.0 398.7 128.4 398.2 130.6 397.5 132.6 396.5 134.4 395.3 136.1 393.9 137.6 392.2 139.0 390.4 140.1 388.3 141.0 385.9 141.6 383.2 142.0 380.2 142.1 377.2 142.1 374.2 142.0 371.4 141.8 368.7 141.6 365.9 141.2 363.1 140.7 360.5 140.2 358.1 139.5 356.0 138.8 354.2 138.0 352.6 137.0 351.2 136.0 350.1 134.9 349.1 133.8 348.3 132.6 347.7 131.5 347.3 130.3 347.1 129.1 347.0 127.8 347.2 126.5Z" fill="#000" fill-opacity="1"/><path d="M358.5 230.0 355.7 226.6 354.9 221.7 355.3 215.9 356.4 210.0 357.5 204.5 358.0 200.0 358.0 196.6 358.0 193.8 358.0 191.4 358.1 189.3 358.2 187.2 358.5 185.0 358.8 182.6 359.2 180.2 359.7 177.8 360.2 175.6 361.0 173.7 362.0 172.0 363.3 170.7 364.7 169.7 366.4 169.0 368.2 168.4 370.1 167.9 372.0 167.5 374.0 167.1 376.1 166.8 378.3 166.7 380.6 166.6 382.8 166.5 385.0 166.5 387.2 166.5 389.6 166.6 391.9 166.7 394.2 166.8 396.2 167.1 398.0 167.5 399.5 167.9 400.7 168.4 401.7 169.0 402.6 169.7 403.3 170.7 404.0 172.0 404.5 173.7 404.9 175.6 405.1 177.8 405.3 180.2 405.4 182.6 405.5 185.0 405.6 187.2 405.6 189.3 405.6 191.4 405.6 193.8 405.5 196.6 405.5 200.0 406.0 204.5 407.2 210.0 408.4 215.9 409.0 221.7 408.2 226.6 405.5 230.0 399.8 232.1 391.6 233.3 382.0 233.8 372.5 233.3 364.2 232.1Z" fill="#000" fill-opacity="1"/><path d="M451.8 110.5 451.9 111.1 452.0 111.6 452.0 112.2 452.0 112.8 451.8 113.4 451.6 114.1 451.3 114.7 450.9 115.4 450.4 116.1 449.9 116.7 449.3 117.4 448.6 118.1 447.9 118.7 447.1 119.4 446.3 120.0 445.3 120.6 444.4 121.2 443.5 121.8 442.5 122.3 441.4 122.8 440.3 123.3 439.3 123.8 438.2 124.2 437.1 124.5 436.0 124.8 435.0 125.1 433.9 125.3 432.8 125.4 431.8 125.6 430.8 125.6 429.9 125.6 429.0 125.6 428.1 125.5 427.3 125.4 426.6 125.2 425.9 125.0 425.3 124.7 424.7 124.4 424.2 124.0 423.8 123.6 423.5 123.1 423.2 122.7 423.1 122.1 423.0 121.6 423.0 121.0 423.0 120.4 423.2 119.8 423.4 119.1 423.7 118.5 424.1 117.8 424.6 117.1 425.1 116.5 425.7 115.8 426.4 115.1 427.1 114.5 427.9 113.8 428.7 113.2 429.7 112.6 430.6 112.0 431.5 111.4 432.5 110.9 433.6 110.4 434.7 109.9 435.7 109.4 436.8 109.0 437.9 108.7 439.0 108.4 440.0 108.1 441.1 107.9 442.2 107.8 443.2 107.6 444.2 107.6 445.1 107.6 446.0 107.6 446.9 107.7 447.7 107.8 448.4 108.0 449.1 108.2 449.7 108.5 450.3 108.8 450.8 109.2 451.2 109.6 451.5 110.1Z" fill="#1a1a1a" fill-opacity="1"/><path d="M346.4 125.0 346.8 123.3 347.3 121.5 348.0 119.7 349.0 117.8 350.1 115.9 351.5 114.1 353.2 112.3 355.1 110.4 357.2 108.5 359.6 106.7 362.1 105.1 364.9 103.7 367.9 102.4 371.5 101.3 375.2 100.2 378.8 99.4 382.3 98.9 385.3 98.8 387.8 98.9 390.1 99.3 392.1 100.1 394.0 101.0 395.6 102.3 397.0 103.9 398.2 105.8 399.2 108.3 400.0 111.0 400.6 113.8 401.0 116.5 401.2 119.1 401.4 121.5 401.3 123.9 401.1 126.3 400.7 128.5 400.1 130.7 399.2 132.7 398.2 134.6 396.9 136.5 395.4 138.2 393.6 139.8 391.7 141.2 389.5 142.2 386.9 143.0 384.0 143.4 380.8 143.6 377.6 143.7 374.4 143.6 371.4 143.5 368.5 143.3 365.6 142.9 362.7 142.5 360.0 141.9 357.4 141.3 355.2 140.5 353.4 139.6 351.7 138.5 350.4 137.3 349.2 136.0 348.2 134.7 347.4 133.4 346.7 132.2 346.3 130.8 346.0 129.5 346.0 128.0 346.1 126.6Z M345.2 125.0 345.6 123.3 346.1 121.5 346.7 119.7 347.6 117.9 348.7 116.0 350.0 114.2 351.6 112.5 353.3 110.6 355.3 108.8 357.6 107.0 360.1 105.4 362.9 104.0 366.2 102.6 370.0 101.2 374.1 100.0 378.2 99.0 382.1 98.3 385.4 98.0 388.1 98.0 390.6 98.3 392.7 99.0 394.7 99.9 396.4 101.1 398.0 102.8 399.4 104.9 400.7 107.5 401.7 110.5 402.5 113.7 403.1 116.7 403.5 119.4 403.6 121.9 403.6 124.2 403.2 126.5 402.7 128.7 402.0 130.8 401.0 132.8 399.8 134.8 398.5 136.9 396.9 138.9 395.1 140.7 393.0 142.3 390.6 143.5 387.9 144.4 384.8 144.9 381.4 145.2 378.0 145.3 374.6 145.2 371.4 145.2 368.3 145.0 365.3 144.7 362.3 144.2 359.4 143.7 356.8 143.0 354.5 142.2 352.6 141.1 350.9 139.9 349.5 138.6 348.3 137.2 347.2 135.7 346.4 134.3 345.7 132.9 345.3 131.4 345.0 129.8 344.9 128.3 345.0 126.7Z M344.1 125.0 344.4 123.3 344.9 121.5 345.5 119.7 346.2 117.9 347.2 116.1 348.5 114.4 350.0 112.6 351.6 110.8 353.5 109.1 355.6 107.4 358.1 105.7 360.9 104.2 364.5 102.7 368.6 101.2 373.1 99.8 377.6 98.6 381.8 97.7 385.4 97.2 388.4 97.2 391.0 97.4 393.3 97.9 395.4 98.7 397.3 100.0 399.0 101.6 400.6 103.9 402.1 106.8 403.4 110.1 404.5 113.5 405.3 116.8 405.8 119.7 405.9 122.2 405.8 124.5 405.4 126.7 404.7 128.8 403.8 130.8 402.8 132.9 401.5 135.1 400.0 137.3 398.4 139.5 396.5 141.6 394.3 143.4 391.8 144.8 388.9 145.7 385.6 146.4 382.0 146.7 378.4 146.9 374.8 146.9 371.4 146.8 368.2 146.7 365.0 146.4 361.8 146.0 358.8 145.4 356.1 144.7 353.8 143.8 351.7 142.7 350.0 141.4 348.6 139.9 347.4 138.4 346.3 136.7 345.4 135.2 344.8 133.5 344.3 131.9 344.0 130.2 343.9 128.5 343.9 126.7Z M343.0 125.0 343.3 123.2 343.6 121.4 344.2 119.7 344.9 117.9 345.8 116.2 347.0 114.5 348.4 112.8 349.9 111.1 351.6 109.3 353.6 107.7 356.1 106.0 359.0 104.5 362.7 102.9 367.2 101.2 372.1 99.6 377.0 98.2 381.6 97.1 385.5 96.5 388.7 96.3 391.5 96.4 393.9 96.8 396.1 97.6 398.1 98.8 400.0 100.5 401.8 102.9 403.6 106.1 405.1 109.7 406.4 113.4 407.4 116.9 408.0 120.0 408.2 122.5 408.0 124.8 407.5 126.9 406.7 128.9 405.7 130.9 404.5 133.0 403.2 135.3 401.6 137.7 399.9 140.2 397.9 142.4 395.6 144.4 393.0 146.0 389.9 147.1 386.4 147.8 382.6 148.2 378.7 148.5 374.9 148.5 371.4 148.5 368.0 148.4 364.7 148.1 361.4 147.8 358.3 147.2 355.5 146.4 353.0 145.5 350.9 144.3 349.2 142.9 347.7 141.2 346.4 139.5 345.4 137.7 344.5 136.0 343.8 134.2 343.3 132.4 343.0 130.6 342.8 128.7 342.9 126.8Z" fill="none" stroke="#000" stroke-width="0.8" stroke-linejoin="round"/><path d="M347.0 125.0 347.4 123.3 348.0 121.6 348.7 119.7 349.7 117.8 350.8 115.9 352.3 114.1 354.0 112.2 356.0 110.3 358.2 108.4 360.6 106.6 363.2 104.9 365.9 103.5 368.9 102.3 372.2 101.3 375.7 100.3 379.2 99.7 382.4 99.2 385.2 99.1 387.7 99.4 389.9 99.9 391.8 100.6 393.6 101.6 395.1 102.9 396.5 104.5 397.6 106.4 398.4 108.6 399.1 111.2 399.6 113.8 399.9 116.5 400.1 118.9 400.2 121.3 400.2 123.7 400.0 126.1 399.7 128.5 399.1 130.6 398.3 132.6 397.3 134.5 396.1 136.3 394.6 137.9 392.9 139.4 391.0 140.6 388.9 141.6 386.4 142.3 383.6 142.7 380.5 142.8 377.4 142.9 374.3 142.8 371.4 142.6 368.6 142.4 365.7 142.0 362.9 141.6 360.2 141.0 357.8 140.4 355.6 139.6 353.8 138.7 352.2 137.7 350.8 136.6 349.6 135.4 348.7 134.2 347.8 133.0 347.2 131.8 346.8 130.6 346.6 129.3 346.5 127.9 346.7 126.5Z M345.8 125.0 346.2 123.3 346.7 121.5 347.4 119.7 348.2 117.8 349.4 116.0 350.7 114.2 352.3 112.4 354.2 110.5 356.2 108.7 358.5 106.9 361.1 105.3 363.8 103.8 367.0 102.5 370.7 101.2 374.6 100.1 378.5 99.2 382.2 98.6 385.3 98.4 388.0 98.5 390.3 98.8 392.5 99.5 394.3 100.4 396.0 101.7 397.5 103.3 398.8 105.3 400.0 107.9 400.9 110.7 401.6 113.7 402.1 116.6 402.4 119.3 402.5 121.7 402.5 124.1 402.2 126.4 401.8 128.6 401.1 130.7 400.2 132.8 399.0 134.7 397.7 136.7 396.1 138.6 394.4 140.3 392.4 141.8 390.1 142.9 387.4 143.7 384.4 144.2 381.1 144.4 377.8 144.5 374.5 144.5 371.4 144.3 368.4 144.2 365.4 143.8 362.5 143.4 359.7 142.8 357.1 142.2 354.9 141.3 353.0 140.4 351.3 139.2 349.9 138.0 348.7 136.6 347.7 135.3 346.9 133.9 346.2 132.5 345.8 131.1 345.5 129.7 345.4 128.2 345.5 126.6Z M344.7 125.0 345.0 123.3 345.5 121.5 346.1 119.7 346.9 117.9 348.0 116.1 349.3 114.3 350.8 112.5 352.5 110.7 354.4 108.9 356.6 107.2 359.1 105.6 362.0 104.1 365.4 102.7 369.4 101.2 373.6 99.9 377.9 98.8 382.0 98.0 385.4 97.6 388.2 97.6 390.8 97.9 393.0 98.4 395.0 99.3 396.8 100.6 398.5 102.2 400.0 104.4 401.4 107.2 402.5 110.3 403.5 113.6 404.2 116.7 404.6 119.5 404.7 122.0 404.6 124.4 404.3 126.6 403.7 128.7 402.9 130.8 401.8 132.8 400.6 135.0 399.2 137.1 397.6 139.2 395.7 141.1 393.6 142.8 391.2 144.1 388.4 145.0 385.2 145.6 381.7 145.9 378.2 146.0 374.7 146.0 371.4 146.0 368.3 145.8 365.1 145.5 362.0 145.1 359.1 144.5 356.5 143.8 354.1 143.0 352.2 141.9 350.5 140.6 349.0 139.3 347.8 137.8 346.8 136.2 345.9 134.7 345.3 133.2 344.8 131.6 344.5 130.0 344.4 128.4 344.5 126.7Z" fill="none" stroke="#333" stroke-width="0.6" stroke-linejoin="round"/><path d="M357.4 230.0 354.4 226.6 353.5 221.7 353.9 216.0 355.1 210.0 356.3 204.5 356.9 200.0 356.9 196.6 356.9 193.8 356.9 191.4 357.0 189.2 357.2 187.1 357.5 184.8 357.8 182.4 358.2 179.9 358.6 177.5 359.2 175.2 360.0 173.2 361.0 171.5 362.3 170.2 363.9 169.2 365.7 168.4 367.6 167.8 369.6 167.4 371.6 166.9 373.7 166.5 375.8 166.2 378.1 166.1 380.4 166.0 382.7 166.0 385.0 166.0 387.3 166.0 389.8 166.0 392.2 166.1 394.6 166.2 396.8 166.5 398.8 166.8 400.6 167.2 402.2 167.5 403.7 168.0 404.9 168.6 406.0 169.5 406.8 170.8 407.2 172.6 407.3 174.7 407.2 177.2 407.0 179.8 406.8 182.4 406.8 185.0 407.0 187.3 407.3 189.5 407.7 191.7 408.1 194.2 408.4 197.0 408.6 200.4 409.3 204.9 410.6 210.3 411.8 216.2 412.3 221.8 411.4 226.6 408.4 230.0 402.3 232.1 393.3 233.3 382.9 233.7 372.5 233.3 363.6 232.1Z M356.1 230.0 352.8 226.6 351.8 221.7 352.3 216.0 353.6 210.0 355.0 204.5 355.6 200.0 355.6 196.6 355.6 193.7 355.7 191.3 355.8 189.0 356.0 186.9 356.3 184.6 356.6 182.1 357.0 179.5 357.4 177.1 358.0 174.7 358.7 172.6 359.8 170.9 361.2 169.6 362.9 168.5 364.8 167.7 366.9 167.1 369.0 166.6 371.1 166.2 373.3 165.8 375.5 165.5 377.8 165.4 380.2 165.3 382.6 165.3 385.0 165.3 387.5 165.3 390.0 165.3 392.6 165.4 395.1 165.5 397.5 165.7 399.8 166.0 401.9 166.2 404.0 166.4 406.0 166.7 407.8 167.2 409.2 168.1 410.2 169.4 410.5 171.3 410.3 173.7 409.7 176.4 409.0 179.3 408.5 182.2 408.4 185.0 408.7 187.5 409.4 189.8 410.3 192.1 411.1 194.6 411.8 197.5 412.3 200.9 413.1 205.3 414.5 210.7 415.8 216.4 416.3 222.0 415.2 226.7 411.9 230.0 405.1 232.0 395.3 233.3 384.0 233.7 372.6 233.3 362.8 232.1Z M354.5 230.0 350.9 226.6 349.8 221.7 350.4 216.0 351.9 210.1 353.3 204.5 354.0 200.0 354.1 196.5 354.1 193.6 354.2 191.1 354.4 188.9 354.6 186.6 354.9 184.3 355.2 181.7 355.6 179.1 355.9 176.6 356.5 174.1 357.3 172.0 358.4 170.2 359.9 168.8 361.7 167.7 363.8 166.9 366.0 166.3 368.3 165.8 370.6 165.3 372.8 165.0 375.2 164.7 377.5 164.6 380.0 164.6 382.5 164.6 385.0 164.6 387.6 164.5 390.3 164.5 393.0 164.6 395.7 164.6 398.4 164.8 400.9 165.0 403.4 165.1 406.1 165.2 408.7 165.3 411.0 165.6 412.9 166.4 414.1 167.7 414.3 169.7 413.7 172.4 412.6 175.5 411.3 178.8 410.4 182.0 410.2 185.0 410.7 187.7 411.8 190.1 413.2 192.5 414.6 195.1 415.9 198.0 416.7 201.4 417.7 205.8 419.2 211.1 420.5 216.7 420.9 222.1 419.7 226.8 415.9 230.0 408.5 232.0 397.7 233.2 385.2 233.7 372.7 233.3 362.0 232.1Z M353.0 230.0 349.1 226.6 347.9 221.7 348.5 216.0 350.1 210.1 351.7 204.5 352.5 200.0 352.6 196.5 352.6 193.6 352.8 191.0 352.9 188.7 353.2 186.4 353.5 184.0 353.8 181.4 354.1 178.7 354.5 176.1 355.0 173.6 355.8 171.3 357.0 169.5 358.6 168.1 360.6 167.0 362.8 166.1 365.2 165.5 367.6 165.0 370.0 164.5 372.4 164.1 374.8 163.9 377.2 163.8 379.8 163.8 382.4 163.8 385.0 163.8 387.7 163.8 390.6 163.7 393.4 163.7 396.3 163.8 399.2 163.9 402.0 164.0 405.0 164.0 408.2 163.9 411.4 163.8 414.3 164.0 416.6 164.7 418.0 166.0 418.1 168.2 417.1 171.1 415.4 174.6 413.7 178.2 412.4 181.8 412.0 185.0 412.7 187.8 414.3 190.4 416.2 192.9 418.2 195.6 419.9 198.6 421.0 202.0 422.2 206.4 423.9 211.6 425.2 217.1 425.6 222.3 424.1 226.8 420.0 230.0 411.9 232.0 400.1 233.2 386.5 233.6 372.9 233.3 361.1 232.1Z M352.0 230.0 347.7 226.6 346.4 221.7 347.2 216.0 348.9 210.1 350.7 204.6 351.5 200.0 351.6 196.5 351.7 193.5 351.8 190.9 352.0 188.5 352.2 186.2 352.5 183.7 352.8 181.0 353.1 178.3 353.4 175.6 353.9 173.0 354.7 170.7 355.9 168.8 357.6 167.3 359.8 166.2 362.2 165.3 364.8 164.7 367.5 164.1 370.0 163.7 372.4 163.3 374.8 163.1 377.3 163.0 379.8 163.0 382.3 163.0 385.0 163.0 387.8 163.0 390.7 162.9 393.7 162.9 396.7 162.9 399.8 163.0 402.8 163.0 406.1 162.9 409.7 162.6 413.3 162.3 416.7 162.3 419.4 162.8 421.4 164.0 422.1 166.2 421.9 169.3 421.1 172.8 420.2 176.5 419.5 180.2 419.4 183.6 420.1 186.5 421.3 189.3 422.8 192.0 424.2 194.8 425.4 197.9 426.2 201.4 427.2 205.9 429.0 211.2 430.4 216.8 430.8 222.2 429.2 226.8 424.8 230.0 415.9 232.0 403.1 233.2 388.3 233.7 373.6 233.3 360.8 232.1Z M351.0 230.0 346.4 226.6 345.0 221.7 345.8 216.0 347.7 210.1 349.6 204.6 350.5 200.0 350.6 196.4 350.7 193.4 350.8 190.8 351.0 188.4 351.2 186.0 351.5 183.4 351.8 180.7 352.0 177.9 352.3 175.1 352.7 172.4 353.5 170.1 354.8 168.1 356.6 166.6 359.0 165.4 361.6 164.5 364.5 163.9 367.3 163.3 370.0 162.8 372.5 162.4 374.9 162.3 377.3 162.2 379.7 162.2 382.3 162.3 385.0 162.2 387.9 162.2 390.9 162.1 394.0 162.1 397.1 162.1 400.4 162.1 403.7 162.0 407.3 161.8 411.2 161.3 415.2 160.8 419.0 160.6 422.3 160.9 424.7 162.1 426.1 164.3 426.7 167.4 426.8 171.0 426.7 174.9 426.6 178.7 426.8 182.2 427.5 185.3 428.4 188.1 429.3 191.0 430.2 193.9 430.9 197.2 431.4 200.9 432.3 205.5 434.1 210.9 435.6 216.6 436.0 222.1 434.3 226.7 429.5 230.0 420.0 232.0 406.1 233.3 390.2 233.7 374.3 233.3 360.5 232.1Z M350.2 230.0 345.3 226.6 343.8 221.7 344.7 216.0 346.7 210.1 348.7 204.6 349.7 200.0 349.8 196.4 349.8 193.4 350.0 190.7 350.2 188.2 350.4 185.8 350.7 183.2 350.9 180.4 351.1 177.5 351.3 174.6 351.7 171.9 352.5 169.5 353.8 167.5 355.8 165.9 358.3 164.8 361.2 163.9 364.2 163.2 367.2 162.6 370.0 162.1 372.5 161.7 374.9 161.6 377.3 161.5 379.7 161.5 382.3 161.6 385.0 161.6 387.9 161.5 391.0 161.4 394.2 161.4 397.5 161.3 400.9 161.3 404.4 161.2 408.3 160.8 412.5 160.2 416.9 159.5 421.0 159.1 424.7 159.3 427.6 160.4 429.6 162.6 430.9 165.7 431.7 169.4 432.2 173.4 432.6 177.4 433.2 181.0 433.9 184.2 434.5 187.2 435.0 190.1 435.4 193.2 435.7 196.6 435.8 200.4 436.7 205.1 438.4 210.6 440.1 216.4 440.5 221.9 438.7 226.7 433.6 230.0 423.4 232.1 408.7 233.3 391.8 233.7 374.9 233.3 360.2 232.1Z M349.5 230.0 344.4 226.6 342.8 221.7 343.7 216.1 345.8 210.1 348.0 204.6 349.0 200.0 349.1 196.4 349.1 193.3 349.3 190.6 349.5 188.1 349.7 185.6 350.0 183.0 350.2 180.2 350.3 177.2 350.5 174.3 350.9 171.5 351.7 169.0 353.0 167.0 355.0 165.4 357.7 164.2 360.8 163.3 364.0 162.6 367.1 162.0 370.0 161.5 372.6 161.1 375.0 161.0 377.3 160.9 379.7 161.0 382.2 161.0 385.0 161.0 388.0 160.9 391.1 160.9 394.4 160.8 397.8 160.7 401.3 160.6 405.0 160.5 409.1 160.0 413.6 159.2 418.2 158.4 422.7 157.9 426.7 158.0 430.0 159.0 432.5 161.2 434.3 164.4 435.8 168.2 436.8 172.2 437.7 176.3 438.5 180.0 439.1 183.3 439.5 186.4 439.7 189.4 439.7 192.6 439.6 196.1 439.5 200.0 440.3 204.8 442.1 210.4 443.8 216.2 444.3 221.9 442.4 226.6 437.0 230.0 426.3 232.1 410.9 233.3 393.1 233.8 375.4 233.3 360.0 232.1Z" fill="none" stroke="#000" stroke-width="0.85" stroke-linejoin="round"/><path d="M452.3 110.8 452.5 111.4 452.6 112.0 452.6 112.7 452.5 113.4 452.4 114.2 452.1 114.9 451.8 115.6 451.4 116.4 450.9 117.2 450.3 118.0 449.6 118.7 448.9 119.5 448.1 120.2 447.3 120.9 446.3 121.6 445.4 122.3 444.3 123.0 443.3 123.6 442.2 124.1 441.1 124.7 439.9 125.2 438.7 125.6 437.5 126.1 436.3 126.4 435.2 126.7 434.0 127.0 432.8 127.2 431.6 127.3 430.5 127.4 429.4 127.4 428.4 127.4 427.4 127.3 426.4 127.1 425.5 126.9 424.7 126.7 423.9 126.4 423.3 126.0 422.7 125.6 422.1 125.2 421.6 124.7 421.3 124.1 421.0 123.5 420.8 122.9 420.7 122.3 420.7 121.6 420.7 120.9 420.9 120.2 421.1 119.4 421.4 118.7 421.9 117.9 422.4 117.1 423.0 116.4 423.6 115.6 424.3 114.9 425.1 114.1 426.0 113.4 426.9 112.7 427.9 112.0 428.9 111.4 430.0 110.8 431.1 110.2 432.2 109.6 433.4 109.1 434.6 108.7 435.8 108.3 436.9 107.9 438.1 107.6 439.3 107.4 440.5 107.2 441.6 107.0 442.8 106.9 443.8 106.9 444.9 106.9 445.9 107.0 446.8 107.2 447.7 107.4 448.6 107.6 449.3 107.9 450.0 108.3 450.6 108.7 451.1 109.2 451.6 109.7 452.0 110.2Z M452.7 111.0 453.0 111.7 453.1 112.4 453.1 113.2 453.1 114.0 452.9 114.9 452.6 115.7 452.3 116.5 451.8 117.4 451.3 118.2 450.7 119.1 450.0 119.9 449.2 120.8 448.4 121.6 447.4 122.3 446.4 123.1 445.4 123.9 444.3 124.6 443.1 125.2 441.9 125.8 440.7 126.4 439.4 126.9 438.1 127.4 436.9 127.8 435.6 128.2 434.3 128.5 433.0 128.7 431.7 128.9 430.5 129.0 429.2 129.1 428.1 129.1 427.0 129.0 425.9 128.9 424.8 128.7 423.8 128.4 422.9 128.1 422.1 127.7 421.4 127.3 420.7 126.8 420.1 126.3 419.6 125.7 419.2 125.0 418.9 124.4 418.6 123.7 418.5 122.9 418.5 122.1 418.5 121.3 418.7 120.5 419.0 119.7 419.3 118.9 419.8 118.0 420.3 117.1 420.9 116.3 421.6 115.4 422.4 114.6 423.2 113.8 424.2 113.0 425.2 112.3 426.2 111.5 427.3 110.8 428.5 110.1 429.7 109.5 430.9 109.0 432.2 108.4 433.5 108.0 434.7 107.5 436.0 107.2 437.3 106.9 438.6 106.6 439.9 106.5 441.1 106.3 442.4 106.3 443.5 106.3 444.6 106.4 445.7 106.5 446.8 106.7 447.8 107.0 448.7 107.3 449.5 107.6 450.2 108.1 450.9 108.6 451.5 109.1 452.0 109.7 452.4 110.3Z M453.2 111.2 453.4 112.0 453.6 112.8 453.6 113.7 453.6 114.6 453.4 115.5 453.1 116.4 452.8 117.4 452.3 118.3 451.7 119.3 451.1 120.2 450.3 121.1 449.5 122.0 448.6 122.9 447.6 123.7 446.5 124.6 445.4 125.4 444.2 126.1 443.0 126.8 441.7 127.5 440.4 128.1 439.0 128.6 437.6 129.1 436.2 129.6 434.9 129.9 433.5 130.2 432.1 130.5 430.7 130.6 429.4 130.7 428.0 130.8 426.8 130.7 425.6 130.6 424.4 130.4 423.3 130.2 422.2 129.9 421.2 129.5 420.3 129.0 419.5 128.5 418.8 128.0 418.2 127.3 417.6 126.7 417.1 125.9 416.8 125.2 416.6 124.4 416.4 123.6 416.4 122.7 416.4 121.8 416.6 120.9 416.9 120.0 417.2 119.0 417.7 118.1 418.3 117.1 418.9 116.2 419.7 115.3 420.5 114.4 421.4 113.5 422.4 112.7 423.5 111.8 424.6 111.0 425.8 110.3 427.0 109.6 428.3 108.9 429.6 108.3 431.0 107.8 432.4 107.3 433.8 106.8 435.1 106.5 436.5 106.2 437.9 105.9 439.3 105.8 440.6 105.7 442.0 105.6 443.2 105.7 444.4 105.8 445.6 106.0 446.7 106.2 447.8 106.5 448.8 106.9 449.7 107.4 450.5 107.9 451.2 108.4 451.8 109.1 452.4 109.7 452.9 110.5Z" fill="none" stroke="#000" stroke-width="0.85" stroke-linejoin="round"/><path d="M344.0 230.0 344.1 225.8 344.1 221.6 344.2 217.4 344.2 213.2 344.3 209.0 344.5 205.0 344.7 201.0 345.0 197.0 345.3 193.0 345.7 189.2 346.1 185.6 346.5 182.3 347.0 179.4 347.6 176.8 348.2 174.4 348.8 172.2 349.4 170.1 350.0 168.0 350.6 166.0 351.2 164.0 351.8 162.2 352.3 160.4 352.7 158.7 352.7 157.0 352.4 155.3 351.8 153.8 351.1 152.2 350.2 150.7 349.3 149.1 348.5 147.5 347.7 145.9 346.8 144.2 346.0 142.5 345.1 140.8 344.3 139.0 343.7 137.2 343.2 135.2 342.7 133.1 342.2 130.9 341.9 128.8 341.8 126.7 341.8 124.9 342.0 123.3 342.3 121.8 342.7 120.5 343.3 119.2 344.1 117.9 345.2 116.5 346.5 115.1 348.1 113.7 349.9 112.3 351.9 110.8 353.9 109.4 356.0 108.0 358.1 106.5 360.3 105.0 362.5 103.4 364.9 102.0 367.3 100.6 369.8 99.5 372.5 98.5 375.5 97.7 378.5 97.0 381.5 96.5 384.3 96.1 386.8 96.0 388.9 96.1 390.8 96.5 392.5 97.1 394.2 97.8 395.8 98.6 397.5 99.5 399.4 100.5 401.3 101.8 403.3 103.1 405.1 104.4 406.9 105.6 408.3 106.5 409.4 107.1 410.2 107.5 410.9 107.8 411.5 108.0 412.2 108.0 413.0 108.0 413.9 107.9 414.9 107.6 415.9 107.2 417.0 106.8 418.4 106.4 420.0 106.0 422.0 105.7 424.4 105.4 427.0 105.1 429.7 104.8 432.3 104.6 434.6 104.3 436.7 103.9 438.8 103.5 440.8 103.0 442.7 102.6 444.4 102.5 446.1 102.8 447.7 103.5 449.3 104.4 450.9 105.6 452.2 107.0 453.2 108.5 453.8 110.0 454.0 111.6 453.9 113.3 453.5 115.2 452.8 117.0 451.9 118.9 450.9 120.6 449.6 122.3 448.0 123.9 446.2 125.6 444.3 127.1 442.3 128.5 440.4 129.8 438.5 130.9 436.6 131.8 434.7 132.5 432.7 133.2 430.7 133.8 428.8 134.4 426.8 134.9 424.8 135.2 422.8 135.5 420.9 135.8 419.0 136.1 417.3 136.5 415.7 137.0 414.2 137.4 412.7 137.9 411.4 138.5 410.1 139.2 409.0 140.0 408.2 141.0 407.6 142.2 407.2 143.4 406.7 144.7 405.9 146.0 404.6 147.2 402.8 148.3 400.6 149.5 398.1 150.6 395.4 151.7 392.7 152.7 390.0 153.5 387.0 154.2 383.5 154.8 380.0 155.2 376.8 155.7 374.4 156.1 373.0 156.5 372.9 157.0 373.6 157.6 375.1 158.2 377.1 158.6 379.5 158.9 382.0 159.0 384.8 158.7 388.0 158.1 391.6 157.3 395.4 156.5 399.2 155.9 403.0 155.5 406.8 155.4 410.9 155.5 415.0 155.8 419.0 156.1 422.8 156.5 426.0 157.0 428.8 157.3 431.3 157.5 433.5 157.8 435.4 158.3 437.1 159.3 438.5 161.0 439.6 163.5 440.3 166.8 440.8 170.5 441.0 174.5 441.3 178.5 441.5 182.3 441.7 186.0 441.9 189.7 442.0 193.4 442.0 197.2 442.0 201.1 442.0 205.0 441.9 209.0 441.8 213.2 441.6 217.4 441.4 221.6 441.2 225.8 441.0 230.0 M344.8 125.0 345.0 123.4 345.3 122.0 345.7 120.7 346.2 119.5 347.0 118.3 348.0 117.0 349.2 115.7 350.7 114.5 352.4 113.2 354.2 112.0 356.1 110.7 358.0 109.5 360.0 108.2 362.0 106.9 364.1 105.6 366.3 104.4 368.6 103.3 371.0 102.3 373.5 101.4 376.3 100.7 379.1 100.0 381.9 99.5 384.5 99.1 386.8 99.0 388.8 99.1 390.5 99.5 392.0 100.1 393.5 100.8 394.9 101.6 396.5 102.5 398.2 103.5 399.9 104.7 401.7 106.1 403.4 107.4 405.0 108.6 406.5 109.5 407.8 110.2 408.9 110.9 409.9 111.4 410.9 111.7 411.9 112.0 413.0 112.0 414.0 111.8 415.0 111.4 416.0 110.8 417.1 110.1 418.4 109.5 420.0 109.0 422.0 108.6 424.4 108.3 427.1 108.0 429.7 107.8 432.3 107.5 434.6 107.3 436.7 107.0 438.7 106.6 440.6 106.2 442.4 106.0 444.1 105.8 445.5 106.0 446.8 106.4 447.9 107.1 448.9 107.9 449.7 108.8 450.3 109.9 450.6 111.0 450.7 112.2 450.5 113.6 450.2 115.1 449.6 116.6 448.9 118.1 448.0 119.5 446.9 120.8 445.5 122.2 443.9 123.5 442.2 124.8 440.5 125.9 438.8 127.0 437.2 128.0 435.5 128.8 433.8 129.6 432.0 130.3 430.3 131.0 428.5 131.5 426.7 131.9 424.9 132.1 423.0 132.3 421.1 132.5 419.2 132.7 417.3 133.0 415.3 133.4 413.2 133.9 411.0 134.4 409.0 135.0 407.1 135.7 405.5 136.5 404.3 137.5 403.5 138.6 402.9 139.8 402.2 141.1 401.3 142.3 400.0 143.5 398.2 144.7 396.0 145.8 393.7 147.0 391.1 148.1 388.5 149.1 386.0 150.0 383.4 150.7 380.6 151.2 377.8 151.6 375.0 152.0 372.3 152.4 370.0 152.8 368.0 153.5 366.1 154.3 364.5 155.1 363.0 155.8 361.5 156.2 360.0 156.0 358.5 155.2 357.1 153.9 355.7 152.3 354.4 150.5 353.2 148.7 352.0 147.0 350.9 145.4 349.8 143.8 348.9 142.2 348.0 140.5 347.2 138.8 346.5 137.0 345.9 135.1 345.5 133.0 345.1 130.9 344.9 128.8 344.8 126.8Z M347.5 230.0 347.5 225.8 347.4 221.6 347.4 217.3 347.4 213.1 347.4 209.0 347.5 205.0 347.6 201.1 347.8 197.1 348.1 193.2 348.3 189.6 348.6 186.1 349.0 183.0 349.4 180.2 349.8 177.8 350.3 175.6 350.8 173.6 351.4 171.7 352.0 170.0 352.7 168.4 353.4 167.0 354.2 165.7 355.1 164.5 356.0 163.5 357.0 162.5 358.0 161.5 359.1 160.6 360.3 159.8 361.5 159.2 362.8 158.7 364.0 158.5 365.2 158.6 366.4 159.1 367.7 159.7 369.0 160.4 370.4 161.1 372.0 161.5 373.7 161.8 375.4 162.0 377.2 162.2 379.3 162.2 381.5 162.2 384.0 162.0 386.8 161.6 389.9 161.0 393.2 160.3 396.7 159.6 400.3 158.9 404.0 158.5 408.0 158.2 412.3 158.1 416.8 158.0 421.1 158.0 424.9 158.2 428.0 158.5 430.3 158.9 431.9 159.3 433.1 159.8 433.9 160.6 434.7 161.8 435.5 163.5 436.3 165.8 436.9 168.6 437.4 171.8 437.9 175.2 438.2 178.8 438.5 182.3 438.7 185.8 438.9 189.5 439.0 193.3 439.0 197.1 439.0 201.0 439.0 205.0 438.9 209.0 438.8 213.2 438.6 217.4 438.4 221.6 438.2 225.8 438.0 230.0" fill="none" stroke="#000" stroke-width="0.9" stroke-linejoin="round"/><path d="M373.0 107.9 372.0 108.0 371.5 107.7 371.1 106.7 371.2 105.7 372.0 105.3 372.7 105.7 372.9 106.7 373.2 107.2 373.0 107.9Z M381.5 106.3 381.3 105.7 382.0 105.6 382.0 105.8 381.5 106.3Z M388.5 106.4 387.5 106.5 387.5 105.7 388.0 105.4 388.7 105.7 388.5 106.4Z M390.5 108.3 390.5 108.0 390.5 108.3Z M365.0 111.8 364.4 111.7 363.5 111.3 363.5 111.2 364.0 110.7 365.0 110.7 365.4 111.2 365.0 111.8Z M381.5 113.0 381.0 112.6 380.8 111.7 381.0 111.2 382.0 111.0 382.1 111.7 382.0 112.5 381.5 113.0Z M363.0 115.3 362.0 115.4 361.0 115.3 360.5 115.2 360.0 114.7 359.9 113.7 359.7 112.7 360.0 112.1 361.0 112.0 361.6 112.2 362.1 112.7 362.5 113.6 362.9 114.2 363.3 114.7 363.0 115.3Z M369.5 119.8 369.1 119.2 368.9 118.7 368.0 118.3 367.1 118.7 366.6 118.7 366.7 117.7 366.8 116.7 366.8 115.7 367.4 115.2 367.7 115.2 368.5 115.5 369.0 115.8 369.5 116.2 370.0 116.8 370.4 117.7 370.7 118.2 370.5 119.1 370.0 119.7 369.5 119.8Z M374.5 118.5 373.8 118.2 373.5 117.7 373.2 116.7 373.5 116.2 374.5 116.1 375.5 115.8 376.0 115.6 377.0 115.6 377.7 115.7 378.1 116.2 378.0 116.7 377.5 117.2 376.5 117.5 375.5 117.5 375.0 118.1 374.5 118.5Z M380.0 122.4 379.5 121.9 379.0 121.5 378.3 121.2 377.5 120.9 376.5 120.9 376.0 120.7 375.4 120.2 375.5 119.4 376.0 119.0 377.0 118.7 377.8 118.7 378.5 118.4 379.0 117.7 379.5 117.2 380.0 116.8 381.0 116.9 382.0 116.8 382.8 117.2 383.1 117.7 383.0 118.5 382.8 119.2 383.0 119.9 383.0 120.4 382.5 120.8 381.5 120.8 380.9 121.2 380.5 122.0 380.0 122.4Z M395.0 118.4 394.3 118.2 394.4 117.2 395.0 117.2 395.0 117.7 395.0 118.4Z M354.5 120.2 354.0 119.7 354.0 118.8 354.6 119.2 354.5 120.2Z M366.0 122.4 365.9 121.7 365.8 120.7 365.8 119.7 366.4 119.2 366.8 119.2 367.5 119.7 368.0 120.0 368.6 120.2 368.5 120.9 368.0 121.5 367.5 121.8 366.5 122.2 366.0 122.4Z M362.0 122.3 361.0 122.2 360.8 121.7 361.0 121.0 361.5 120.2 361.8 119.7 362.5 119.6 362.6 120.2 362.4 120.7 362.4 121.7 362.0 122.3Z M355.0 120.3 355.0 120.1 355.0 120.3Z M371.5 122.7 371.0 122.7 371.2 122.2 371.5 121.3 371.8 120.7 372.4 120.2 373.0 120.1 373.4 120.7 373.0 121.5 372.5 122.2 372.0 122.6 371.5 122.7Z M389.0 124.5 388.1 124.2 388.5 123.4 389.0 122.8 389.4 122.2 389.9 121.7 390.5 121.5 391.0 121.9 391.1 122.7 390.6 123.2 390.0 123.5 389.5 123.9 389.0 124.5Z M395.0 123.2 394.8 122.7 395.0 122.1 395.0 122.7 395.0 123.2Z M370.5 123.4 370.5 123.1 370.5 123.4Z M366.0 127.3 365.0 127.4 364.0 127.4 363.5 127.2 363.0 126.7 362.5 126.2 362.5 125.2 363.0 124.8 363.5 124.5 364.0 124.2 364.7 123.7 365.5 123.3 366.2 123.7 366.5 124.7 366.6 125.2 366.9 126.2 366.5 127.2 366.0 127.3Z M384.5 126.7 384.2 126.2 384.0 125.7 383.8 124.7 384.1 124.2 385.0 123.8 386.0 123.9 386.5 124.7 386.2 125.7 385.8 126.2 385.0 126.6 384.5 126.7Z M394.5 126.4 393.5 126.3 393.3 125.7 394.0 125.2 394.8 125.7 394.5 126.4Z M369.0 128.9 368.0 128.9 367.5 128.4 367.3 127.7 367.5 127.1 368.0 126.7 368.6 126.2 369.5 125.9 370.5 126.2 370.8 126.7 370.4 127.2 370.0 127.8 369.5 128.5 369.0 128.9Z M393.5 131.3 392.6 131.2 392.1 130.7 391.8 130.2 392.0 129.2 392.5 128.9 393.0 128.7 394.0 128.5 394.5 129.0 394.5 129.2 394.1 130.2 393.6 130.7 393.5 131.3Z M388.5 130.3 388.5 130.1 388.5 130.3Z M352.5 131.3 352.4 130.7 352.6 130.7 352.5 131.3Z M365.0 132.8 365.0 132.5 365.0 132.8Z M384.5 136.8 384.5 136.7 384.5 136.8Z M384.0 137.3 384.0 137.0 384.0 137.3Z M377.0 138.8 376.0 138.8 375.0 138.8 374.0 138.7 374.0 138.2 374.0 137.7 375.0 137.4 375.9 137.7 376.5 138.0 377.0 138.4 377.0 138.8Z" fill="#707070" fill-rule="evenodd"/><path d="M368.5 117.2 367.8 116.7 368.0 116.1 368.5 116.4 368.5 117.2Z M380.5 118.9 379.5 118.7 380.0 117.9 380.7 118.2 380.5 118.9Z M366.0 126.9 365.0 127.0 364.0 126.7 363.6 126.2 364.0 125.2 364.5 124.8 365.0 124.4 365.5 124.2 366.0 124.6 366.2 125.2 366.4 126.2 366.0 126.9Z M385.5 125.7 384.6 125.7 384.5 125.2 384.6 124.7 385.5 124.5 385.8 125.2 385.5 125.7Z M368.5 128.4 368.0 127.9 368.0 127.7 368.5 127.2 369.2 127.2 369.0 128.2 368.5 128.4Z M393.5 130.8 392.8 130.7 392.4 130.2 392.5 129.5 393.5 129.3 394.0 130.2 393.5 130.8Z M376.0 138.7 375.0 138.7 375.0 138.4 376.0 138.7 376.0 138.7Z" fill="#e0e0e0" fill-rule="evenodd"/><path d="M370 119 q4 -4 7 -1 q1 4 -3 6 q-4 1 -4 -5Z" fill="#fff"/><path d="M380.8 174.7 379.8 174.7 379.3 174.6 378.7 174.2 378.5 173.2 379.1 172.7 379.8 172.2 380.1 171.7 379.8 171.0 379.3 170.4 378.8 169.8 378.6 169.2 379.3 168.8 379.8 168.6 380.7 168.2 380.9 168.2 381.7 168.7 382.1 169.2 382.1 170.2 381.8 170.9 381.3 171.5 380.9 172.2 381.0 173.2 381.3 173.7 381.3 174.6 380.8 174.7Z M394.8 170.9 393.8 170.7 393.3 170.5 392.7 170.2 392.4 169.2 393.2 168.7 393.8 168.7 394.3 168.9 394.8 169.2 395.3 169.7 395.3 170.5 394.8 170.9Z M370.8 169.3 370.2 169.2 370.8 169.2 370.8 169.3Z M387.3 173.4 386.3 173.5 385.8 172.7 385.9 171.7 386.3 171.1 387.3 170.7 387.8 170.5 388.5 170.7 388.7 171.7 388.2 172.2 387.8 172.7 387.3 173.4Z M398.8 173.3 397.8 173.4 397.5 172.7 398.3 172.3 398.9 172.7 398.8 173.3Z M383.3 188.4 382.3 188.5 381.7 188.2 381.2 187.7 380.9 186.7 380.8 186.0 380.3 185.3 380.1 184.7 380.6 184.2 381.0 183.7 380.8 182.7 380.3 182.2 379.8 182.0 378.8 182.0 378.2 182.2 377.5 182.7 376.8 182.9 375.8 183.2 375.3 183.5 375.0 182.7 375.1 181.7 374.9 180.7 374.3 180.2 374.5 179.2 374.6 178.2 374.3 177.4 373.8 177.0 373.0 177.2 372.3 177.3 372.3 176.9 372.7 176.2 372.9 175.7 373.3 175.0 374.3 174.7 374.8 174.5 375.3 174.2 376.0 174.2 376.6 174.7 376.9 175.2 377.0 176.2 376.7 176.7 376.5 177.7 376.3 178.7 376.1 179.2 375.8 179.7 375.8 180.5 376.3 180.9 377.3 180.8 377.4 180.2 377.4 179.2 378.3 178.8 379.3 178.8 379.8 178.7 380.8 178.4 381.8 178.5 382.3 179.1 382.5 179.7 383.1 180.2 383.8 180.4 384.6 180.7 384.3 181.6 383.8 182.1 383.3 182.6 382.9 183.2 383.3 184.1 383.8 184.2 384.5 184.2 385.3 184.0 385.8 183.6 386.1 182.7 386.3 182.2 387.3 181.8 388.3 181.8 388.8 181.5 389.4 181.7 389.3 182.4 388.8 183.0 388.3 183.7 387.8 183.9 386.8 184.1 386.4 184.7 386.3 185.7 386.3 186.7 386.1 186.7 385.3 186.5 384.5 186.7 384.0 187.2 383.8 188.1 383.3 188.4Z M402.8 179.0 401.8 179.0 401.2 178.7 400.5 178.2 400.2 177.7 400.3 177.1 400.8 176.4 401.3 175.8 401.5 175.2 402.3 174.7 402.8 174.6 403.3 174.2 403.3 174.7 403.3 175.7 403.8 176.2 403.8 177.1 403.4 177.7 403.2 178.2 402.8 179.0Z M365.8 176.7 365.1 176.7 364.8 175.9 364.8 175.4 365.1 174.7 365.8 174.5 366.3 174.7 366.2 175.2 366.0 176.2 365.8 176.7Z M385.8 179.4 385.1 179.2 384.7 178.7 384.2 178.2 383.8 177.6 383.5 176.7 383.8 176.2 384.8 176.0 385.4 176.2 386.3 176.6 386.8 176.2 387.5 175.7 388.3 175.4 388.8 175.7 388.6 176.2 388.2 176.7 387.8 177.2 387.3 177.8 386.8 178.2 386.3 178.8 385.8 179.4Z M379.3 177.1 378.6 176.7 379.0 176.2 379.3 176.2 379.3 177.1Z M396.3 182.9 395.3 183.0 395.1 182.2 394.8 181.2 394.6 180.7 394.8 180.2 395.7 179.7 396.2 179.2 396.3 178.7 396.3 178.1 396.2 177.2 396.8 176.7 397.4 177.2 397.4 178.2 397.4 179.2 397.3 179.7 396.8 180.4 396.7 181.2 396.8 181.7 396.8 182.3 396.3 182.9Z M392.3 181.0 391.3 181.0 391.0 180.2 391.4 179.7 392.0 179.7 392.5 180.2 392.3 181.0Z M360.3 183.7 360.2 183.2 360.2 182.2 360.3 181.6 361.2 181.7 361.8 182.2 362.0 182.7 361.6 183.2 360.8 183.5 360.3 183.7Z M370.8 184.3 370.1 184.2 369.8 183.2 370.3 182.2 371.3 182.4 371.5 183.2 371.3 183.9 370.8 184.3Z M390.8 186.0 389.8 185.7 389.3 185.3 388.8 184.9 388.8 184.5 389.8 184.3 390.8 184.4 391.3 185.1 391.3 185.5 390.8 186.0Z M397.3 188.6 396.3 188.3 395.8 187.7 395.7 187.2 395.7 186.2 395.9 185.7 396.8 185.5 397.2 186.2 397.5 186.7 397.8 187.4 397.8 187.9 397.3 188.6Z M359.8 187.7 359.8 186.7 359.9 186.7 359.8 187.7Z M388.3 203.7 387.3 204.1 386.5 203.7 385.8 203.6 384.8 203.4 384.4 202.7 384.3 201.7 384.3 201.1 383.8 200.3 383.2 200.2 382.3 200.0 381.6 199.7 380.8 199.5 379.8 199.5 379.1 199.2 378.7 198.7 378.5 197.7 378.3 196.7 378.2 196.2 378.0 195.2 377.9 194.2 377.4 193.7 376.8 193.2 376.3 192.7 375.8 192.4 375.3 192.1 374.3 192.0 373.7 192.2 372.8 192.4 372.1 192.7 371.4 193.2 370.9 193.7 370.4 194.2 371.3 194.5 372.3 194.7 372.8 194.7 373.3 194.6 374.3 194.5 375.3 194.3 376.3 194.7 376.3 194.7 375.8 195.6 375.3 195.9 374.3 196.2 373.8 196.4 373.3 196.9 372.8 197.3 371.8 197.2 371.3 196.8 370.8 196.3 370.3 195.8 369.3 196.2 368.8 196.3 368.4 195.7 368.2 195.2 368.0 194.2 368.3 193.2 368.8 192.9 369.3 192.7 369.8 191.9 370.3 191.6 371.0 191.2 371.5 190.7 371.7 189.7 371.7 188.7 371.8 187.7 371.8 187.2 372.3 186.5 373.3 186.7 373.7 187.2 373.9 187.7 374.1 188.7 373.8 189.7 374.3 190.6 374.8 190.9 375.7 190.7 376.3 190.6 377.3 190.5 378.3 190.6 378.8 190.8 379.2 191.7 379.3 192.6 379.8 193.0 380.8 192.9 381.3 192.4 381.8 191.9 382.8 191.7 383.3 191.6 384.1 191.2 384.5 190.7 384.3 189.7 384.1 189.2 384.3 188.5 385.3 188.3 385.8 188.7 386.0 189.7 386.4 190.2 387.3 190.2 387.8 189.8 388.1 189.2 388.3 188.6 388.9 188.2 389.8 187.9 390.8 187.7 391.8 188.0 392.3 188.2 392.9 188.7 392.4 189.2 391.9 189.7 391.4 190.2 391.0 190.7 390.6 191.2 390.1 191.7 389.3 192.1 388.8 192.5 388.5 193.2 388.6 194.2 388.8 194.7 389.3 195.3 389.8 195.7 390.7 196.2 391.1 196.7 391.3 197.2 391.3 197.8 390.8 198.5 390.3 198.9 389.3 198.9 388.7 198.7 388.3 197.9 388.3 197.5 388.3 197.0 387.8 196.3 387.3 195.9 386.8 195.3 386.5 194.7 386.1 194.2 385.3 193.9 384.5 193.7 383.8 193.2 383.3 192.8 382.3 193.1 381.8 193.7 381.7 194.2 381.3 194.9 380.8 195.4 380.7 196.2 381.0 196.7 381.2 197.7 381.1 198.7 381.8 199.1 382.3 198.7 383.2 198.2 383.8 198.1 384.3 198.3 384.8 198.7 385.2 199.7 385.8 200.0 386.3 200.3 386.8 201.2 386.8 201.7 387.3 202.2 387.8 202.1 388.8 202.1 388.8 202.7 388.6 203.2 388.3 203.7Z M399.8 188.2 399.3 188.1 398.7 187.7 398.9 187.2 399.6 186.7 400.3 186.6 400.8 186.8 401.1 187.7 400.3 188.1 399.8 188.2Z M367.8 191.8 367.0 191.7 366.3 191.2 365.9 190.7 365.4 190.2 364.8 189.7 364.5 189.2 364.8 188.6 365.8 188.3 366.7 188.7 366.8 189.2 367.1 190.2 367.5 190.7 367.9 191.2 367.8 191.8Z M363.3 198.2 362.8 198.2 362.3 197.5 361.5 197.7 360.8 198.1 360.3 198.3 359.5 198.2 359.2 197.7 359.2 196.7 359.3 196.1 360.3 196.0 361.3 196.0 361.7 195.2 361.8 194.7 361.7 194.2 361.3 193.5 360.8 193.0 360.1 192.7 359.3 192.3 359.2 191.7 359.3 191.1 359.8 190.5 360.8 190.3 361.3 189.8 361.8 189.4 362.7 189.7 362.8 190.2 362.7 190.7 362.3 191.5 362.0 192.2 362.3 192.9 362.5 193.7 363.0 194.2 363.8 194.3 364.4 194.7 364.4 195.7 364.4 196.7 364.0 197.2 363.7 197.7 363.3 198.2Z M395.8 192.4 394.8 192.2 394.5 191.7 394.5 190.7 394.8 190.1 395.8 189.7 396.6 190.2 396.7 191.2 396.3 192.1 395.8 192.4Z M398.8 204.2 397.9 204.2 397.5 203.7 397.0 203.2 396.3 202.9 395.4 203.2 394.8 203.6 393.8 203.5 393.0 203.2 393.3 202.2 393.4 201.7 393.4 200.7 393.2 200.2 393.2 199.2 393.8 198.8 394.3 198.7 394.9 198.2 394.9 197.2 395.0 196.2 395.3 195.6 395.8 194.8 396.3 194.2 396.8 193.8 397.3 193.4 397.8 193.1 398.5 192.7 399.2 192.2 399.3 192.2 399.3 192.7 398.8 193.7 399.0 194.7 398.9 195.7 398.9 196.7 398.5 197.2 397.8 197.5 397.2 197.7 396.8 198.3 396.4 199.2 396.6 200.2 397.2 200.7 397.8 200.9 398.8 201.0 398.8 201.7 398.7 202.2 398.8 202.7 398.9 203.7 398.8 204.2Z M402.3 193.8 402.3 193.2 402.8 193.1 402.8 193.5 402.3 193.8Z M391.3 194.0 391.3 193.5 391.3 194.0Z M391.8 194.3 391.8 194.0 391.8 194.3Z M402.3 199.5 401.3 199.6 400.4 199.2 400.8 198.7 401.3 198.2 402.2 197.7 402.3 197.7 403.0 198.2 402.8 199.2 402.3 199.5Z M359.8 201.2 359.2 201.2 359.2 200.2 359.2 199.2 359.7 199.2 360.1 199.7 360.3 200.2 360.2 200.7 359.8 201.2Z M362.8 199.2 362.8 199.1 362.8 199.2Z M373.8 200.4 372.8 200.5 372.5 199.7 372.9 199.2 373.8 198.9 374.2 199.7 373.8 200.4Z M364.3 209.7 363.4 209.7 363.3 208.7 363.1 208.2 362.8 207.7 362.3 207.1 362.3 206.3 362.7 205.7 363.2 205.2 362.8 204.4 362.6 203.7 362.4 202.7 362.6 201.7 363.3 201.5 363.8 201.7 364.5 202.2 364.9 202.7 365.8 203.1 366.8 202.9 367.5 203.2 367.8 203.9 367.9 204.7 367.8 205.7 367.5 206.2 366.8 206.5 366.0 206.2 365.7 205.7 365.3 205.1 364.3 204.9 363.3 205.2 363.8 205.9 364.3 206.4 364.8 206.7 365.7 207.2 366.2 207.7 366.8 208.0 367.3 208.4 367.3 209.1 366.8 209.4 365.8 209.6 364.8 209.6 364.3 209.7Z M404.8 203.5 403.8 203.4 403.4 202.7 403.4 201.7 404.3 201.3 404.3 202.2 404.8 202.7 404.8 203.5Z M376.3 204.4 375.3 204.2 374.8 204.0 373.8 203.7 374.2 202.7 374.7 202.2 375.3 201.9 376.1 202.2 376.4 202.7 376.8 203.5 376.8 203.9 376.3 204.4Z M382.8 207.5 382.2 207.2 381.8 206.4 381.3 205.7 380.8 205.2 380.6 204.7 380.5 203.7 380.8 202.9 381.7 203.2 382.3 203.6 382.8 203.8 383.6 204.2 384.0 204.7 384.1 205.7 383.8 206.4 383.3 207.1 382.8 207.5Z M373.8 213.2 373.3 213.1 372.8 212.2 372.4 211.7 371.8 211.5 371.0 211.2 370.3 210.8 369.8 210.5 369.6 209.7 369.6 208.7 369.5 207.7 369.8 206.9 370.2 206.2 370.4 205.7 370.8 205.1 371.3 204.6 371.9 204.2 372.7 203.7 373.3 203.7 373.3 203.7 372.9 204.7 372.8 205.3 372.8 205.9 373.0 206.7 372.3 207.1 371.8 207.5 371.5 208.2 371.8 208.7 372.3 209.2 372.8 209.7 373.3 210.2 373.8 210.7 374.2 211.7 374.5 212.2 374.3 213.1 373.8 213.2Z M400.8 205.7 399.9 205.7 399.4 205.2 399.8 204.7 400.5 204.2 401.3 203.7 401.3 203.7 401.8 204.2 401.8 204.8 401.3 205.5 400.8 205.7Z M375.3 209.8 374.3 210.0 374.3 209.3 374.3 208.7 374.2 208.2 374.1 207.2 374.8 207.1 375.8 207.0 376.7 206.7 377.3 206.6 378.3 206.6 379.0 206.2 379.8 205.7 380.3 206.2 380.3 207.2 380.1 207.7 379.8 208.2 378.9 208.7 378.3 208.7 377.8 208.4 377.3 208.1 376.6 208.2 376.2 208.7 375.8 209.3 375.3 209.8Z M389.3 209.4 388.5 209.2 388.0 208.7 388.0 207.7 388.8 207.3 389.3 207.7 389.5 208.7 389.3 209.4Z M393.8 210.3 393.1 210.2 392.8 209.5 392.7 208.7 392.8 208.0 393.3 208.2 393.8 208.7 394.3 209.5 394.3 209.8 393.8 210.3Z M398.3 210.4 397.3 210.3 397.1 209.7 397.3 209.1 398.3 209.1 398.8 209.6 398.8 210.1 398.3 210.4Z M404.3 209.8 403.6 209.7 403.8 208.8 404.3 209.2 404.3 209.8Z M358.3 213.0 357.3 213.2 357.2 212.2 357.3 211.6 357.7 210.7 358.3 210.6 358.8 210.9 358.9 211.7 358.7 212.2 358.3 213.0Z M370.3 217.2 369.6 216.7 369.3 215.9 368.9 215.2 368.5 214.7 368.2 214.2 367.8 213.2 367.5 212.7 367.7 211.7 368.0 211.2 368.3 210.7 369.3 210.5 369.4 211.2 369.8 211.9 370.2 212.7 370.5 213.2 370.9 213.7 370.8 214.7 370.5 215.2 370.7 216.2 370.3 217.2Z M363.3 213.1 362.9 212.2 363.3 211.6 363.5 212.2 363.3 213.1Z M389.8 212.2 389.8 212.2 389.8 212.2Z M390.3 219.3 389.7 219.2 389.2 218.7 388.8 218.1 388.3 217.4 387.9 216.7 387.3 216.2 386.8 216.1 385.8 215.8 385.3 215.2 385.3 215.2 385.8 214.5 386.8 214.3 387.8 214.5 388.3 214.9 389.3 214.9 389.8 214.7 390.6 214.2 390.8 213.7 390.7 213.2 391.3 213.1 391.8 213.4 392.8 213.5 393.3 213.2 393.8 212.6 394.3 212.9 394.3 213.7 393.9 214.2 393.5 214.7 393.1 215.2 392.3 215.5 391.3 215.4 390.8 215.8 390.8 216.7 391.1 217.2 391.3 217.7 391.3 218.3 390.8 219.0 390.3 219.3Z M400.3 215.8 399.8 215.6 399.2 215.2 398.3 215.0 397.9 215.7 397.3 216.2 396.3 215.9 395.8 215.2 396.3 214.2 396.8 213.8 397.3 213.5 398.3 213.5 399.3 213.3 399.8 212.7 400.3 212.5 400.8 212.8 400.9 213.7 401.0 214.7 400.8 215.6 400.3 215.8Z M376.3 215.4 376.1 214.7 376.0 213.7 376.5 213.7 376.5 214.7 376.3 215.4Z M357.8 218.3 356.8 218.2 356.7 217.7 356.7 216.7 357.3 216.4 358.3 216.6 358.6 217.2 358.3 218.1 357.8 218.3Z M377.3 219.3 376.3 219.5 375.6 219.2 375.2 218.7 375.0 217.7 375.3 217.0 376.3 217.0 376.8 217.3 377.3 217.7 377.6 218.7 377.3 219.3Z M383.8 218.5 382.8 218.2 382.4 217.7 383.3 217.6 383.8 217.7 383.8 218.5Z M401.3 217.8 401.3 217.3 401.3 217.8Z M407.3 220.3 407.0 219.7 407.0 218.7 407.1 217.7 407.3 217.7 407.3 218.7 407.3 219.7 407.3 220.3Z M364.8 218.4 364.8 218.0 364.8 218.4Z M396.8 224.6 396.1 224.2 395.9 223.2 396.3 222.5 396.7 221.7 396.8 221.2 396.6 220.7 396.4 219.7 396.8 218.9 397.3 218.4 398.0 218.7 398.3 219.2 398.8 220.1 399.0 220.7 398.8 221.5 398.3 222.2 398.0 222.7 397.7 223.2 397.3 223.8 396.8 224.6Z M359.3 227.2 358.8 226.7 358.3 226.2 358.2 225.7 357.6 225.2 357.2 224.7 357.3 223.7 357.8 223.5 358.7 223.7 359.3 223.8 359.8 223.6 359.8 222.8 359.5 222.2 359.3 221.2 359.7 220.2 360.1 219.7 360.5 219.2 361.3 218.8 361.8 219.2 362.5 219.7 362.8 220.2 362.8 221.1 362.5 221.7 362.2 222.2 361.9 223.2 362.0 224.2 361.3 224.7 360.8 224.9 360.3 225.2 359.8 225.7 359.3 226.7 359.3 227.2Z M401.8 227.9 401.1 227.7 400.3 227.3 399.3 227.3 399.1 226.7 399.3 226.1 399.8 225.6 400.5 225.2 401.3 224.8 401.8 224.6 402.3 224.7 403.0 225.2 403.3 225.7 403.3 226.5 402.9 227.2 402.3 227.7 401.8 227.9Z M364.8 227.3 364.7 226.7 365.1 226.2 365.5 225.7 366.0 225.2 366.8 225.1 367.3 225.3 367.6 226.2 366.8 226.5 366.3 226.7 365.3 227.1 364.8 227.3Z M369.8 226.8 369.1 226.7 369.0 225.7 369.6 225.2 370.3 224.9 370.6 225.7 370.3 226.4 369.8 226.8Z M396.3 227.5 395.7 227.2 395.3 226.3 395.3 226.1 395.8 225.5 396.3 225.1 396.6 225.7 396.6 226.7 396.3 227.5Z M386.8 230.8 386.3 230.5 385.8 229.7 386.3 229.1 386.7 228.2 386.8 227.7 386.7 227.2 386.3 226.2 386.3 226.1 386.8 225.2 387.3 225.7 387.7 226.7 388.0 227.2 388.3 227.7 388.6 228.7 388.2 229.2 387.3 229.5 387.1 230.2 386.8 230.8Z M383.8 228.4 382.8 228.3 382.4 227.7 383.3 227.4 383.8 227.9 383.8 228.4Z M362.8 228.7 361.8 228.7 361.8 228.3 362.3 228.1 363.1 228.2 362.8 228.7Z M372.8 230.7 371.8 230.7 371.8 230.5 372.3 230.0 373.2 230.2 372.8 230.7Z M392.8 230.7 391.8 230.7 391.7 230.2 392.3 230.0 392.8 230.3 392.8 230.7Z M377.8 231.2 376.8 231.2 376.7 230.7 377.3 230.4 377.8 230.8 377.8 231.2Z" fill="#707070" fill-rule="evenodd"/><path d="M380.8 170.7 380.3 170.6 379.8 170.1 379.8 169.3 380.3 169.0 381.3 169.0 381.5 169.7 381.3 170.4 380.8 170.7Z M386.8 172.3 386.8 171.9 386.8 172.3Z M375.8 177.0 374.8 176.7 374.4 176.2 374.7 175.2 375.3 174.9 376.3 175.1 376.4 175.7 376.3 176.2 375.8 177.0Z M402.3 178.3 401.6 178.2 400.9 177.7 401.3 176.7 401.8 176.3 402.3 175.9 403.3 176.1 403.3 176.4 402.9 177.2 402.7 177.7 402.3 178.3Z M385.3 178.4 384.8 178.1 384.3 177.4 384.2 176.7 384.8 176.6 385.3 177.0 385.6 177.7 385.3 178.4Z M382.3 182.8 381.6 182.7 381.1 182.2 380.4 181.7 379.8 181.5 378.9 181.2 378.7 180.7 378.8 179.8 379.3 179.4 379.8 179.1 380.8 178.8 381.8 179.2 382.0 179.7 382.4 180.2 383.1 180.7 383.7 181.2 383.3 181.9 382.8 182.4 382.3 182.8Z M360.8 182.9 360.2 182.7 360.3 182.1 360.9 182.2 360.8 182.9Z M384.8 185.7 383.8 185.9 383.7 185.2 384.3 184.9 385.2 185.2 384.8 185.7Z M396.8 187.3 396.8 187.1 396.8 187.3Z M372.8 190.1 372.3 189.2 372.2 188.7 372.3 188.1 372.8 187.3 373.3 187.7 373.5 188.7 373.3 189.3 372.8 190.1Z M387.8 195.3 387.3 194.9 387.0 194.2 386.6 193.7 385.8 193.4 384.8 193.2 384.3 192.8 384.1 192.2 384.8 192.0 385.8 192.1 386.6 191.7 387.2 191.2 387.8 190.8 388.2 190.2 388.5 189.7 388.8 189.1 389.3 188.7 390.3 188.3 391.3 188.6 391.4 189.2 391.1 189.7 390.7 190.2 390.1 190.7 389.5 191.2 388.8 191.6 388.3 191.8 387.8 192.4 387.8 192.7 387.8 193.7 388.1 194.7 387.8 195.3Z M365.8 189.3 365.2 189.2 365.8 189.2 365.8 189.3Z M361.8 190.9 361.7 190.2 362.0 190.2 361.8 190.9Z M395.8 191.7 395.3 191.7 395.2 190.7 395.8 190.5 396.1 191.2 395.8 191.7Z M376.8 191.7 376.8 191.6 376.8 191.7Z M379.8 198.4 379.3 198.1 379.0 197.2 378.8 196.4 378.6 195.7 378.7 194.7 378.8 194.2 379.8 194.1 379.9 194.7 379.9 195.7 380.3 196.6 380.5 197.2 380.3 198.0 379.8 198.4Z M398.3 196.2 397.3 196.6 396.3 196.2 396.7 195.2 397.3 194.8 397.8 194.6 398.3 194.8 398.3 195.7 398.3 196.2Z M372.8 196.3 371.8 196.2 371.6 195.7 372.3 195.4 373.0 195.7 372.8 196.3Z M390.3 198.3 389.4 198.2 389.1 197.7 389.2 196.7 389.8 196.4 390.3 196.7 390.6 197.7 390.3 198.3Z M394.8 203.0 393.8 202.7 393.8 202.6 393.9 201.7 394.0 200.7 394.3 199.8 394.8 199.6 395.5 199.7 395.9 200.2 396.3 200.7 396.8 201.3 396.9 202.2 396.3 202.3 395.3 202.6 394.8 203.0Z M385.8 202.8 385.0 202.7 384.8 202.1 384.8 201.2 384.9 200.7 385.8 200.5 386.3 201.1 386.3 201.7 386.1 202.2 385.8 202.8Z M363.8 203.7 363.3 203.5 363.1 202.7 363.8 202.4 364.2 203.2 363.8 203.7Z M375.8 203.7 375.3 203.6 375.2 202.7 375.4 202.7 376.0 203.2 375.8 203.7Z M366.8 205.5 366.3 204.9 366.2 204.2 366.3 204.2 367.0 204.7 366.8 205.5Z M383.3 206.3 382.4 206.2 382.0 205.7 382.0 204.7 382.8 204.5 383.3 204.7 383.6 205.7 383.3 206.3Z M372.3 210.8 371.3 210.7 370.9 210.2 371.3 209.5 371.9 209.7 372.3 210.2 372.3 210.8Z M357.8 211.8 357.2 211.7 357.8 211.5 357.8 211.8Z M369.8 214.2 368.8 214.2 368.6 213.7 368.3 212.7 368.8 212.1 369.3 212.4 369.8 213.0 370.0 213.7 369.8 214.2Z M400.3 214.8 399.7 214.7 399.8 213.8 400.3 213.6 400.4 214.2 400.3 214.8Z M397.3 215.2 396.6 215.2 396.8 214.5 397.3 214.2 397.6 214.7 397.3 215.2Z M386.8 215.3 386.2 215.2 386.8 215.1 386.8 215.3Z M390.3 218.5 389.6 218.2 389.2 217.7 389.3 216.8 390.2 217.2 390.6 217.7 390.3 218.5Z M397.3 219.7 397.3 219.6 397.3 219.7Z M361.3 222.4 360.3 222.2 359.8 221.7 359.7 221.2 359.9 220.7 360.3 220.2 361.3 219.9 361.8 220.2 362.2 221.2 361.8 222.0 361.3 222.4Z M397.3 222.7 397.3 222.5 397.3 222.7Z M396.8 223.3 396.8 222.9 396.8 223.3Z M358.3 225.8 357.8 225.2 357.5 224.7 358.3 224.4 358.8 224.7 358.8 225.4 358.3 225.8Z M402.3 226.9 401.3 226.8 400.8 226.4 400.7 225.7 401.3 225.4 401.8 225.1 402.3 225.2 402.8 225.7 402.8 226.4 402.3 226.9Z" fill="#e0e0e0" fill-rule="evenodd"/><path d="M445.4 109.1 444.4 109.1 444.4 109.0 445.4 109.0 445.4 109.1Z M436.4 111.5 435.9 111.4 435.3 111.0 435.4 110.5 436.4 110.5 436.9 110.8 436.9 111.2 436.4 111.5Z M433.4 111.5 433.4 111.5 433.4 111.5Z M430.9 116.7 429.9 116.7 429.4 116.4 429.0 115.5 429.4 114.5 429.7 114.0 430.1 113.5 430.9 113.0 431.4 112.5 431.9 112.4 432.4 111.9 433.0 112.0 432.9 113.0 432.6 113.5 432.0 114.0 431.9 114.5 431.8 115.5 431.4 116.3 430.9 116.7Z M441.9 114.0 441.8 113.5 442.1 113.0 442.4 112.2 442.9 111.6 443.9 111.6 444.7 112.0 445.0 112.5 444.9 113.5 444.4 113.6 443.4 113.6 442.4 114.0 441.9 114.0Z M440.4 122.5 439.8 122.5 439.4 121.9 439.0 121.0 438.7 120.5 438.2 120.0 437.9 119.5 437.9 118.9 438.4 118.3 438.8 117.5 438.4 116.7 437.9 117.1 437.2 117.5 436.4 117.7 435.4 117.5 435.4 117.2 435.6 116.5 435.6 115.5 435.2 115.0 434.7 114.5 434.4 114.0 434.6 113.5 435.2 113.0 435.9 112.8 436.4 113.1 437.4 113.1 437.9 112.5 438.4 112.5 438.9 112.7 439.4 113.5 439.5 114.0 439.6 115.0 439.9 115.9 440.4 116.2 441.1 116.5 441.7 117.0 441.9 117.6 442.6 117.5 442.9 116.6 443.4 116.1 444.4 116.2 444.5 117.0 444.3 117.5 443.9 118.2 443.4 119.0 443.0 119.5 442.4 120.0 441.9 120.0 441.4 120.0 441.4 120.0 441.7 121.0 441.4 121.6 440.9 122.0 440.4 122.5Z M424.9 119.5 424.9 119.0 425.4 118.5 425.4 117.9 426.0 118.0 425.9 118.5 425.4 119.1 424.9 119.5Z M431.4 122.0 430.8 122.0 430.2 121.5 429.9 120.5 430.3 119.5 430.9 119.0 431.4 118.7 432.4 118.9 432.4 119.0 432.1 120.0 431.9 121.0 431.8 121.5 431.4 122.0Z M425.9 123.5 425.4 123.1 424.9 122.6 424.9 122.0 425.4 121.7 426.1 122.0 426.4 123.0 425.9 123.5Z" fill="#707070" fill-rule="evenodd"/><path d="M444.4 113.1 443.4 113.1 443.1 112.5 443.9 112.0 444.6 112.5 444.4 113.1Z M436.9 117.0 436.4 117.0 436.2 116.0 436.0 115.0 435.7 114.5 435.9 113.9 436.4 114.2 436.9 114.5 437.4 115.2 437.6 116.0 437.4 116.6 436.9 117.0Z M430.9 116.0 430.1 116.0 429.8 115.5 429.9 114.8 430.4 114.4 430.9 114.5 431.2 115.5 430.9 116.0Z M439.9 119.2 438.9 119.2 438.9 118.9 439.4 118.0 439.5 117.5 439.9 116.9 440.7 117.0 441.1 117.5 440.9 118.5 440.4 118.9 439.9 119.2Z M425.4 123.0 424.9 122.5 424.9 122.4 425.5 122.5 425.4 123.0Z" fill="#e0e0e0" fill-rule="evenodd"/></g>
<path d="M142.8 224 V57.5 H305 V215 M132 215 H305" fill="none" stroke="#000" stroke-width="1.45" stroke-linejoin="miter"/><line x1="132" y1="59.5" x2="142.8" y2="59.5" stroke="#000" stroke-width="1.45"/><line x1="132" y1="98.6" x2="142.8" y2="98.6" stroke="#000" stroke-width="1.45"/><line x1="132" y1="137.5" x2="142.8" y2="137.5" stroke="#000" stroke-width="1.45"/><line x1="132" y1="176.3" x2="142.8" y2="176.3" stroke="#000" stroke-width="1.45"/><line x1="183" y1="215" x2="183" y2="224" stroke="#000" stroke-width="1.45"/><line x1="222.5" y1="215" x2="222.5" y2="224" stroke="#000" stroke-width="1.45"/><line x1="262" y1="215" x2="262" y2="224" stroke="#000" stroke-width="1.45"/><line x1="302" y1="215" x2="302" y2="224" stroke="#000" stroke-width="1.45"/><path d="M333.5 223.5 V57.3 H497 V214.5 M323.5 214.5 H497" fill="none" stroke="#000" stroke-width="1.45" stroke-linejoin="miter"/><line x1="323.5" y1="59.3" x2="333.5" y2="59.3" stroke="#000" stroke-width="1.45"/><line x1="323.5" y1="98.4" x2="333.5" y2="98.4" stroke="#000" stroke-width="1.45"/><line x1="323.5" y1="137.4" x2="333.5" y2="137.4" stroke="#000" stroke-width="1.45"/><line x1="323.5" y1="176" x2="333.5" y2="176" stroke="#000" stroke-width="1.45"/><line x1="373.5" y1="214.5" x2="373.5" y2="223.5" stroke="#000" stroke-width="1.45"/><line x1="413.5" y1="214.5" x2="413.5" y2="223.5" stroke="#000" stroke-width="1.45"/><line x1="453.5" y1="214.5" x2="453.5" y2="223.5" stroke="#000" stroke-width="1.45"/><line x1="494" y1="214.5" x2="494" y2="223.5" stroke="#000" stroke-width="1.45"/><text x="99.3" y="25" font-size="35" font-weight="bold">A</text><text x="310.5" y="25" font-size="35" font-weight="bold" transform="translate(311.8 0) scale(0.97 1) translate(-311.8 0)">B</text><text x="224.2" y="18.7" text-anchor="middle" font-size="20.5" letter-spacing="0.3">unimmunized</text><text x="225.2" y="40.3" text-anchor="middle" font-size="20.5" letter-spacing="0.4">control</text><text x="415.9" y="18.3" text-anchor="middle" font-size="20.5" letter-spacing="0.42">Day 8 SRBC</text><text x="416.2" y="40.2" text-anchor="middle" font-size="20.5" letter-spacing="0.39">immunized</text><text transform="translate(116.6,136.6) rotate(-90)" text-anchor="middle" font-size="23.5" letter-spacing="0.6">B220</text><text x="323" y="264.6" text-anchor="middle" font-size="22" transform="translate(323 0) scale(0.94 1) translate(-323 0)">PNA</text><path d="M236 256.1 H289 M350.8 256.1 H408" stroke="#000" stroke-width="2.6"/><path d="M219 256 L236.5 250.2 L236.5 261.9 Z M424.4 255.8 L407.7 250.1 L407.7 261.7 Z" fill="#000"/><path d="M479.2 152.2 L464 138" stroke="#000" stroke-width="3.8" stroke-linecap="round"/><path d="M454.7 127.3 L470.8 134.6 L462 143.4 Z" fill="#000"/>
</svg></body></html>
